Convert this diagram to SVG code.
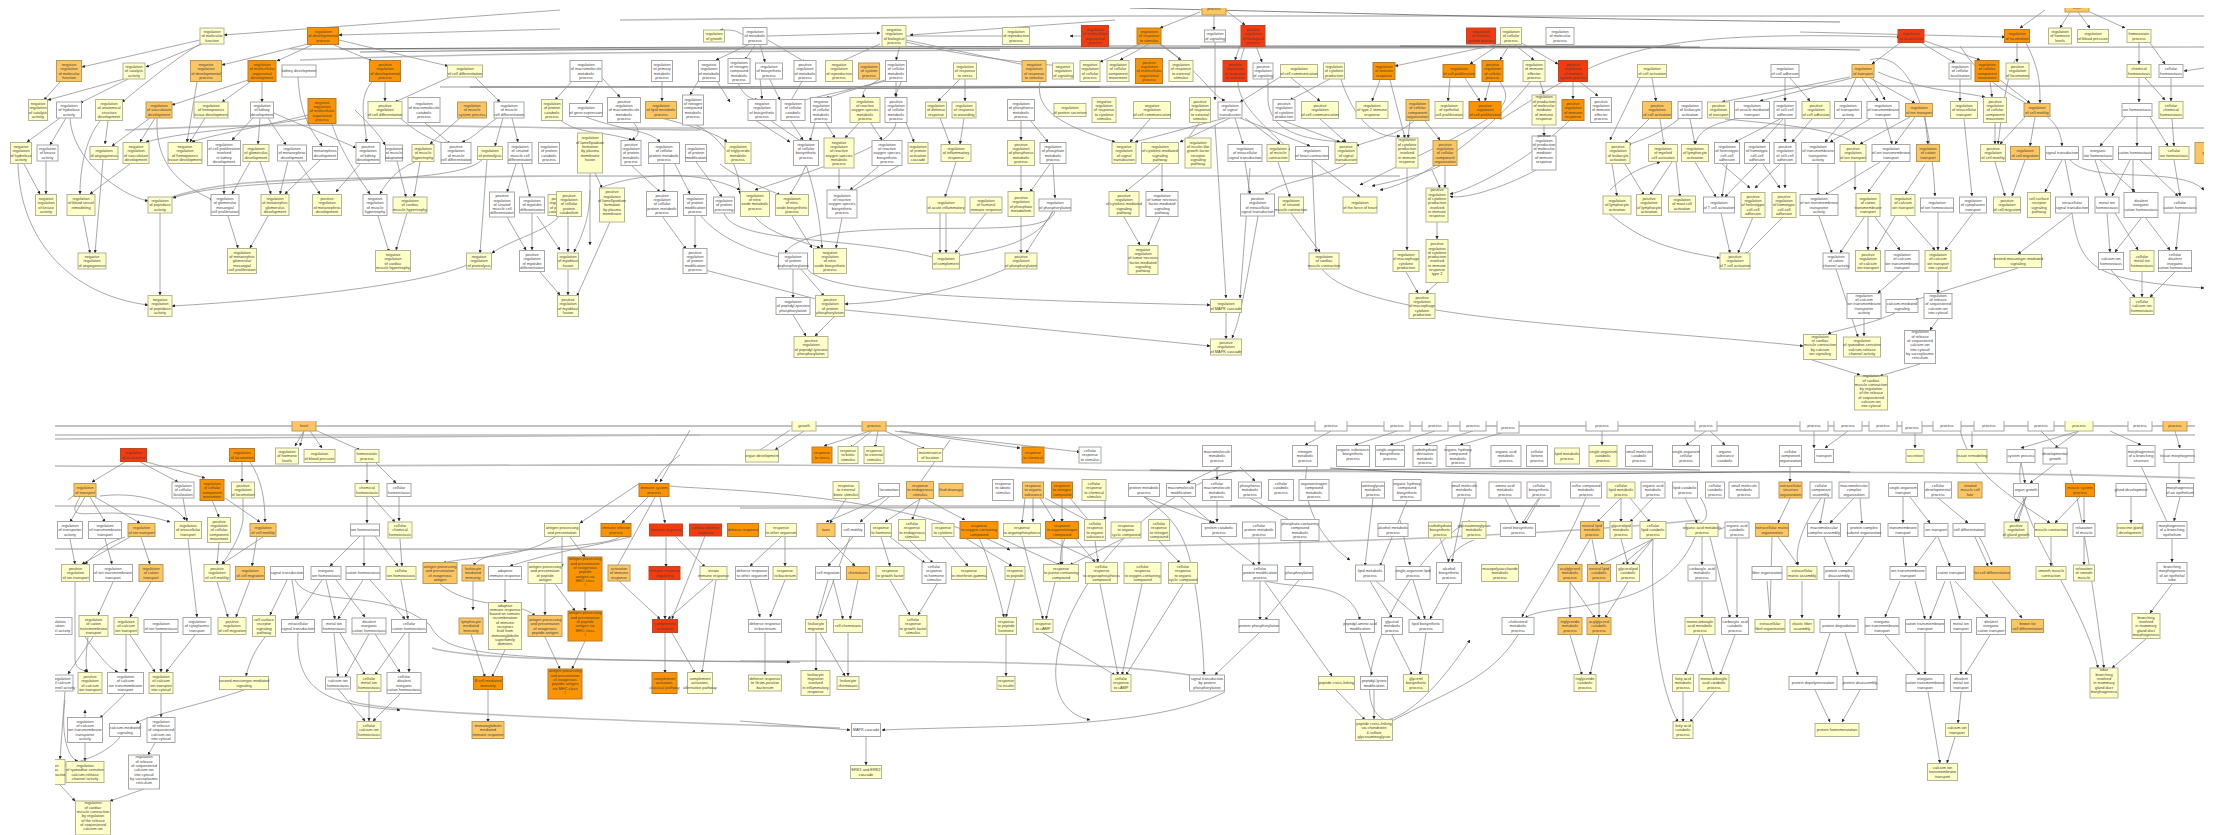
<svg xmlns="http://www.w3.org/2000/svg" width="2229" height="835" viewBox="0 0 2229 835">
<style>
text{font-family:"Liberation Sans",Arial,sans-serif;font-size:3.9px;text-anchor:middle;fill:#444}
rect{stroke-width:1}
.y rect{fill:#ffffc8;stroke:#b4b49a}
.w rect{fill:#fff;stroke:#a8a8a8}
.l rect{fill:#fdc662;stroke:#b89a5a}
.o rect{fill:#fb9400;stroke:#b87a2a}
.r rect{fill:#f53a0e;stroke:#b84a2a}
.e path{fill:none;stroke:#8c8c8c;stroke-width:.75;marker-end:url(#a)}
.b path{fill:none;stroke:#bdbdbd;stroke-width:1.6}
.d path{fill:none;stroke:#555;stroke-width:.7}
</style>
<defs>
<marker id="a" viewBox="0 0 6 6" refX="5.5" refY="3" markerWidth="3.2" markerHeight="3.2" markerUnits="userSpaceOnUse" orient="auto"><path d="M0 0L6 3L0 6z" fill="#222" stroke="none"/></marker>
<clipPath id="c1"><rect x="0" y="8" width="2204" height="410"/></clipPath>
<clipPath id="c2"><rect x="55" y="421" width="2140" height="414"/></clipPath>
</defs>
<rect width="2229" height="835" fill="#fff" stroke="none"/>
<g id="top-panel" clip-path="url(#c1)">
<g id="connectors-top">
<g class="b"><path d="M290 49C500 46 900 46 2204 47"/><path d="M440 87C800 86 1500 86 2204 86"/><path d="M560 128H2204"/><path d="M172 197C230 178 300 178 560 176H1400"/><path d="M1120 16H2204"/><path d="M300 60C500 52 700 52 1000 50"/><path d="M620 20C800 18 1000 17 1120 16"/><path d="M125 130C300 120 500 128 700 130"/></g>
<g class="d"><path d="M340 49C600 47 900 47 1120 46H1680"/><path d="M360 52C600 49 900 48 1200 48"/><path d="M470 87H1100"/><path d="M1130 8C1300 12 1600 20 1840 22"/><path d="M1400 46C1600 47 1750 48 1860 50"/><path d="M700 88C900 90 1100 86 1300 87"/><path d="M1200 47H1700"/></g>
<g class="e">
<path d="M560 10L224 35"/><path d="M560 29L339 35"/><path d="M200 40L82 67"/><path d="M202 44L146 67"/><path d="M308 44L222 65"/><path d="M312 45L277 61"/><path d="M334 45L372 61"/><path d="M339 40L448 66"/><path d="M124 79L48 100"/><path d="M128 79L80 103"/><path d="M60 82L44 100"/><path d="M200 44C170 62 135 92 122 102"/><path d="M197 82L187 142"/><path d="M248 80L172 105"/><path d="M250 82L222 102"/><path d="M262 82V102"/><path d="M450 77L395 102"/><path d="M385 82V101"/><path d="M372 82C355 100 368 130 366 142"/><path d="M475 77L500 102"/><path d="M298 77C300 120 315 135 322 146"/><path d="M60 118L27 142"/><path d="M66 118L50 145"/><path d="M70 118C72 160 120 195 148 201"/><path d="M108 121L105 144"/><path d="M100 121C85 140 80 170 80 194"/><path d="M150 118L112 146"/><path d="M155 118L140 142"/><path d="M157 118C155 165 180 185 213 200"/><path d="M205 118L190 142"/><path d="M253 118L232 140"/><path d="M260 118L258 144"/><path d="M268 118L286 145"/><path d="M274 113C300 125 340 140 356 148"/><path d="M308 115C270 125 210 135 192 142"/><path d="M308 118C260 128 190 130 146 142"/><path d="M332 124C340 150 360 180 370 194"/><path d="M224 166V194"/><path d="M250 162L232 194"/><path d="M260 162L271 194"/><path d="M288 161L280 194"/><path d="M298 161L320 194"/><path d="M320 160L285 194"/><path d="M360 164L336 192"/><path d="M397 161L406 197"/><path d="M420 162L414 197"/><path d="M415 162C395 170 385 185 380 194"/><path d="M130 164L90 194"/><path d="M103 160L95 253"/><path d="M83 216L90 253"/><path d="M24 164L40 194"/><path d="M18 164C20 240 70 295 148 305"/><path d="M46 161V194"/><path d="M160 213V295"/><path d="M228 216L238 248"/><path d="M268 216L250 248"/><path d="M378 216L389 252"/><path d="M407 213L396 250"/><path d="M487 160L480 253"/><path d="M482 160C450 190 250 172 173 198"/><path d="M467 265C420 285 280 300 172 306"/><path d="M507 217L526 250"/><path d="M532 213V250"/><path d="M559 216C550 230 510 240 492 253"/><path d="M537 216L560 250"/><path d="M540 272L560 295"/><path d="M512 118L518 142"/><path d="M497 118C480 130 470 140 462 142"/><path d="M460 118L430 144"/><path d="M503 118L495 146"/><path d="M516 164L507 192"/><path d="M522 164L530 197"/><path d="M400 118C420 135 440 145 446 142"/><path d="M355 110C370 125 380 135 385 145"/><path d="M425 123C440 135 446 140 450 144"/>
<path d="M755 45L745 60"/><path d="M750 44L716 60"/><path d="M760 45L765 62"/><path d="M768 40L805 62"/><path d="M745 36C735 30 735 30 720 30"/><path d="M880 44L840 62"/><path d="M906 40L1030 66"/><path d="M906 36L1010 36"/><path d="M1082 36H1070"/><path d="M1115 20L910 35"/><path d="M767 36L880 33"/><path d="M906 42C960 55 1000 60 1060 66"/><path d="M900 46L896 60"/><path d="M600 80L586 103"/><path d="M602 78L620 97"/><path d="M575 78L555 100"/><path d="M662 81V101"/><path d="M700 78L690 95"/><path d="M715 78L730 102"/><path d="M735 75C740 90 745 98 758 100"/><path d="M760 78L762 99"/><path d="M769 78L780 100"/><path d="M804 78L790 102"/><path d="M885 80L826 98"/><path d="M890 80L800 101"/><path d="M896 80V97"/><path d="M903 78L895 96"/><path d="M880 79C860 90 862 95 865 97"/><path d="M960 79L938 101"/><path d="M965 79V101"/><path d="M1040 82C1035 110 1060 125 1115 142"/><path d="M560 120C580 135 600 130 632 140"/><path d="M586 117C620 130 650 130 660 142"/><path d="M633 122C640 130 640 135 632 140"/><path d="M661 118C690 125 720 135 727 142"/><path d="M695 125C710 130 740 155 740 194"/><path d="M755 120L790 142"/><path d="M770 120L802 142"/><path d="M790 120L803 140"/><path d="M815 122L810 141"/><path d="M825 122L835 138"/><path d="M860 122L845 138"/><path d="M870 122L882 140"/><path d="M896 122C895 145 830 165 755 190"/><path d="M905 120L914 142"/><path d="M940 118L950 144"/><path d="M964 118L960 144"/><path d="M1021 120V140"/><path d="M1030 120L1048 142"/><path d="M590 173V245"/><path d="M595 173L602 188"/><path d="M631 165L660 192"/><path d="M664 164V193"/><path d="M675 164L690 194"/><path d="M696 162L722 197"/><path d="M720 164C740 180 770 190 780 195"/><path d="M806 165C800 180 795 185 790 195"/><path d="M839 169V189"/><path d="M880 165L850 190"/><path d="M902 164L850 192"/><path d="M600 188C640 172 700 170 740 190"/><path d="M956 162L945 197"/><path d="M1021 166V191"/><path d="M1050 164L1030 192"/><path d="M1053 164L1055 198"/><path d="M662 216L686 249"/><path d="M695 216V248"/><path d="M700 215C720 240 760 255 786 258"/><path d="M724 213C735 245 850 235 936 258"/><path d="M755 217C770 235 800 240 820 248"/><path d="M792 216L812 248"/><path d="M806 165C815 190 820 220 822 248"/><path d="M842 218L836 248"/><path d="M568 217V252"/><path d="M590 190C590 220 580 240 574 252"/><path d="M568 270V295"/><path d="M610 222L577 296"/><path d="M940 213L940 253"/><path d="M946 213V253"/><path d="M986 213L955 253"/><path d="M1053 211C1040 240 1000 250 956 256"/><path d="M1021 216V253"/><path d="M1053 211L1026 253"/><path d="M705 270L820 300"/><path d="M793 269V298"/><path d="M800 268L824 296"/><path d="M1010 267C960 290 900 302 845 304"/><path d="M793 315L806 336"/><path d="M835 316L815 336"/><path d="M808 270C830 295 1000 300 1210 305"/><path d="M845 310C950 320 1100 335 1210 346"/><path d="M1055 211C1050 240 920 220 820 235C800 240 790 245 785 253"/>
<path d="M1149 44L1120 60"/><path d="M1160 44L1181 60"/><path d="M1140 44L1100 62"/><path d="M1225 10L1245 25"/><path d="M1200 12L1160 28"/><path d="M1214 12V30"/><path d="M1240 46L1235 60"/><path d="M1256 46L1262 62"/><path d="M1215 42V100"/><path d="M1160 44C1200 70 1215 100 1225 100"/><path d="M1245 46C1230 90 1235 100 1290 150"/><path d="M1290 77L1320 101"/><path d="M1280 77L1240 102"/><path d="M1268 78V100C1270 130 1300 140 1345 142"/><path d="M1330 79L1290 100"/><path d="M1340 76C1350 110 1370 140 1400 136"/><path d="M1380 80L1372 101"/><path d="M1390 80L1405 138"/><path d="M1500 44L1395 66"/><path d="M1510 44L1500 60"/><path d="M1500 44L1470 64"/><path d="M1515 45L1534 60"/><path d="M1520 42L1558 64"/><path d="M1450 78L1448 101"/><path d="M1465 78L1480 101"/><path d="M1490 81L1485 101"/><path d="M1500 82C1520 110 1490 120 1360 185"/><path d="M1573 82V99"/><path d="M1580 82L1598 96"/><path d="M1530 82C1500 120 1430 180 1380 190"/><path d="M1540 82L1544 94"/><path d="M1544 125V136"/><path d="M1425 121L1440 140"/><path d="M1410 120L1408 138"/><path d="M1415 120C1400 135 1370 140 1356 146"/><path d="M1445 166L1445 188"/><path d="M1200 122L1185 142"/><path d="M1230 118L1180 142"/><path d="M1225 118L1135 142"/><path d="M1245 118L1280 144"/><path d="M1235 118L1243 144"/><path d="M1240 118L1310 146"/><path d="M1150 119L1130 142"/><path d="M1320 119L1346 142"/><path d="M1284 121L1340 142"/><path d="M1160 164L1125 192"/><path d="M1162 164V192"/><path d="M1245 162L1250 194"/><path d="M1278 162L1290 197"/><path d="M1312 160L1360 197"/><path d="M1312 160L1316 252"/><path d="M1346 164C1320 180 1280 180 1265 195"/><path d="M1407 168V250"/><path d="M1437 222V239"/><path d="M1432 170L1440 188"/><path d="M1440 166C1420 175 1400 180 1372 186"/><path d="M1540 168C1500 190 1460 200 1450 196"/><path d="M1570 120C1530 160 1470 190 1450 194"/><path d="M1291 213L1320 252"/><path d="M1124 217L1140 245"/><path d="M1160 217L1148 245"/><path d="M1250 168L1240 298"/><path d="M1215 125L1226 298"/><path d="M1258 216C1245 290 1240 320 1232 338"/><path d="M1226 313V339"/><path d="M1406 272L1418 293"/><path d="M1437 283L1426 293"/><path d="M1322 269C1360 320 1600 325 1803 346"/><path d="M1660 119L1664 145"/><path d="M1650 118L1625 143"/><path d="M1652 78L1656 101"/><path d="M1640 78L1610 140"/><path d="M1690 119L1695 144"/><path d="M1680 118C1660 135 1640 140 1628 145"/><path d="M1612 164L1617 196"/><path d="M1625 164L1644 195"/><path d="M1610 190C1630 170 1650 165 1660 162"/><path d="M1672 162L1650 195"/><path d="M1676 162L1680 197"/><path d="M1695 162L1716 197"/><path d="M1727 164L1722 197"/><path d="M1722 164L1750 188"/><path d="M1757 164L1725 197"/><path d="M1763 164L1780 188"/><path d="M1780 164L1755 188"/><path d="M1785 164V188"/><path d="M1610 214C1640 240 1670 250 1720 258"/><path d="M1721 213L1730 253"/><path d="M1753 217L1738 253"/><path d="M1783 217L1745 255"/>
<path d="M1785 78V101"/><path d="M1790 78L1810 101"/><path d="M1850 77L1722 102"/><path d="M1852 78L1760 101"/><path d="M1856 78L1845 101"/><path d="M1862 78L1878 101"/><path d="M1870 78L1915 103"/><path d="M1872 76L1885 100"/><path d="M1878 72C1920 90 1950 90 1985 97"/><path d="M1900 43L1872 64"/><path d="M1922 43L1955 63"/><path d="M1925 41L1980 60"/><path d="M2017 43V62"/><path d="M2026 43C2040 70 2040 85 2040 103"/><path d="M1960 79V101"/><path d="M1990 81L1992 97"/><path d="M2000 80L2030 103"/><path d="M1780 119L1735 142"/><path d="M1783 119L1762 142"/><path d="M1785 119V142"/><path d="M1812 119L1792 142"/><path d="M1735 119C1710 125 1700 130 1695 144"/><path d="M1725 119C1790 125 1840 130 1855 144"/><path d="M1845 119L1825 142"/><path d="M1870 119L1830 142"/><path d="M1885 119L1892 144"/><path d="M1910 117L1860 144"/><path d="M1915 117L1895 144"/><path d="M1925 117L1928 144"/><path d="M1995 123V144"/><path d="M2025 117L2000 144"/><path d="M2035 117L2030 146"/><path d="M1964 119L1972 196"/><path d="M2015 60C2005 80 2000 130 1998 144"/><path d="M1695 162L1700 150"/><path d="M1925 164L1905 194"/><path d="M1880 162L1825 195"/><path d="M1890 162L1868 192"/><path d="M1818 164V196"/><path d="M1855 162L1855 190"/><path d="M1995 162L2005 196"/><path d="M2025 160L2012 196"/><path d="M2062 160L2045 192"/><path d="M2065 160L2072 196"/><path d="M2095 160L2107 196"/><path d="M2100 160L2135 192"/><path d="M2130 160L2112 196"/><path d="M2133 160V192"/><path d="M2140 160L2178 196"/><path d="M2174 160L2180 196"/><path d="M2070 160C2090 185 2180 165 2204 190"/><path d="M1500 120C1610 50 1640 30 1900 37"/><path d="M1800 32L2005 37"/><path d="M1960 46C2000 110 2060 100 2062 146"/><path d="M1870 60C1900 50 1930 90 1935 196"/><path d="M2045 10L2020 28"/><path d="M2070 12L2060 28"/><path d="M2078 12L2090 28"/><path d="M2090 12L2125 28"/><path d="M2139 43V64"/><path d="M2150 43L2165 64"/><path d="M2139 78V102"/><path d="M2145 78L2165 100"/><path d="M2171 78V101"/><path d="M2204 68L2184 71"/><path d="M2125 117L2100 146"/><path d="M2137 117V146"/><path d="M2150 117L2168 146"/><path d="M2172 119L2174 146"/><path d="M1819 216L1832 253"/><path d="M1868 217V250"/><path d="M1875 217L1900 250"/><path d="M1905 216L1935 250"/><path d="M1938 212V250"/><path d="M1973 213L1945 250"/><path d="M1865 216L1840 253"/><path d="M1895 216L1875 250"/><path d="M2072 213L2018 254"/><path d="M2107 213L2110 252"/><path d="M2115 213L2138 250"/><path d="M2142 217L2115 252"/><path d="M2145 217L2170 250"/><path d="M2180 213L2176 250"/><path d="M1938 272V293"/><path d="M1902 272L1878 293"/><path d="M2018 268L1915 300"/><path d="M2111 270L2135 297"/><path d="M2142 272V297"/><path d="M2175 272L2150 297"/><path d="M2072 213C2080 270 2095 280 2204 288"/><path d="M1836 269L1858 337"/><path d="M1864 319V336"/><path d="M1895 313C1870 325 1835 330 1828 334"/><path d="M1938 319L1930 330"/><path d="M1812 360L1860 375"/><path d="M1920 364L1880 376"/>
</g></g>
<g id="t1" class="y" transform="translate(212,36)"><rect x="-12" y="-8" width="24" height="16"/><text y="-3"><tspan x="0">regulation</tspan><tspan x="0" dy="4.3">of molecular</tspan><tspan x="0" dy="4.3">function</tspan></text></g>
<g id="t2" class="o" transform="translate(323,36)"><rect x="-15.5" y="-8.5" width="31" height="17"/><text y="-3"><tspan x="0">regulation</tspan><tspan x="0" dy="4.3">of developmental</tspan><tspan x="0" dy="4.3">process</tspan></text></g>
<g id="t3" class="l" transform="translate(69,71)"><rect x="-12.5" y="-10.5" width="25" height="21"/><text y="-5.1"><tspan x="0">negative</tspan><tspan x="0" dy="4.3">regulation</tspan><tspan x="0" dy="4.3">of molecular</tspan><tspan x="0" dy="4.3">function</tspan></text></g>
<g id="t4" class="y" transform="translate(134,71)"><rect x="-11" y="-8" width="22" height="16"/><text y="-3"><tspan x="0">regulation</tspan><tspan x="0" dy="4.3">of catalytic</tspan><tspan x="0" dy="4.3">activity</tspan></text></g>
<g id="t5" class="l" transform="translate(206,71)"><rect x="-15.5" y="-10.5" width="31" height="21"/><text y="-5.1"><tspan x="0">negative</tspan><tspan x="0" dy="4.3">regulation</tspan><tspan x="0" dy="4.3">of developmental</tspan><tspan x="0" dy="4.3">process</tspan></text></g>
<g id="t6" class="o" transform="translate(262,71)"><rect x="-14" y="-10.5" width="28" height="21"/><text y="-5.1"><tspan x="0">regulation</tspan><tspan x="0" dy="4.3">of multicellular</tspan><tspan x="0" dy="4.3">organismal</tspan><tspan x="0" dy="4.3">development</tspan></text></g>
<g id="t7" class="w" transform="translate(299,71)"><rect x="-17" y="-6" width="34" height="12"/><text y="1.4">kidney development</text></g>
<g id="t8" class="o" transform="translate(385,71)"><rect x="-15.5" y="-10.5" width="31" height="21"/><text y="-5.1"><tspan x="0">positive</tspan><tspan x="0" dy="4.3">regulation</tspan><tspan x="0" dy="4.3">of developmental</tspan><tspan x="0" dy="4.3">process</tspan></text></g>
<g id="t9" class="y" transform="translate(465,71)"><rect x="-17.5" y="-6" width="35" height="12"/><text y="-.8"><tspan x="0">regulation</tspan><tspan x="0" dy="4.3">of cell differentiation</tspan></text></g>
<g id="t10" class="y" transform="translate(38,110)"><rect x="-9.5" y="-10.5" width="19" height="21"/><text y="-5.1"><tspan x="0">negative</tspan><tspan x="0" dy="4.3">regulation</tspan><tspan x="0" dy="4.3">of catalytic</tspan><tspan x="0" dy="4.3">activity</tspan></text></g>
<g id="t11" class="w" transform="translate(69,110)"><rect x="-12.5" y="-8" width="25" height="16"/><text y="-3"><tspan x="0">regulation</tspan><tspan x="0" dy="4.3">of hydrolase</tspan><tspan x="0" dy="4.3">activity</tspan></text></g>
<g id="t12" class="y" transform="translate(109,110)"><rect x="-13.5" y="-10.5" width="27" height="21"/><text y="-5.1"><tspan x="0">regulation</tspan><tspan x="0" dy="4.3">of anatomical</tspan><tspan x="0" dy="4.3">structure</tspan><tspan x="0" dy="4.3">development</tspan></text></g>
<g id="t13" class="l" transform="translate(159,110)"><rect x="-13" y="-8" width="26" height="16"/><text y="-3"><tspan x="0">regulation</tspan><tspan x="0" dy="4.3">of vasculature</tspan><tspan x="0" dy="4.3">development</tspan></text></g>
<g id="t14" class="y" transform="translate(211,110)"><rect x="-17" y="-8" width="34" height="16"/><text y="-3"><tspan x="0">regulation</tspan><tspan x="0" dy="4.3">of hemopoiesis</tspan><tspan x="0" dy="4.3">tissue development</tspan></text></g>
<g id="t15" class="w" transform="translate(262,110)"><rect x="-11.5" y="-8" width="23" height="16"/><text y="-3"><tspan x="0">regulation</tspan><tspan x="0" dy="4.3">of kidney</tspan><tspan x="0" dy="4.3">development</tspan></text></g>
<g id="t16" class="o" transform="translate(322,111)"><rect x="-14" y="-12.5" width="28" height="25"/><text y="-7.3"><tspan x="0">negative</tspan><tspan x="0" dy="4.3">regulation</tspan><tspan x="0" dy="4.3">of multicellular</tspan><tspan x="0" dy="4.3">organismal</tspan><tspan x="0" dy="4.3">process</tspan></text></g>
<g id="t17" class="y" transform="translate(385,110)"><rect x="-17" y="-8.5" width="34" height="17"/><text y="-3"><tspan x="0">positive</tspan><tspan x="0" dy="4.3">regulation</tspan><tspan x="0" dy="4.3">of cell differentiation</tspan></text></g>
<g id="t18" class="w" transform="translate(424,110)"><rect x="-16" y="-12.5" width="32" height="25"/><text y="-5.1"><tspan x="0">regulation</tspan><tspan x="0" dy="4.3">of macromolecule</tspan><tspan x="0" dy="4.3">catabolic</tspan><tspan x="0" dy="4.3">process</tspan></text></g>
<g id="t19" class="l" transform="translate(472,110)"><rect x="-14.5" y="-8" width="29" height="16"/><text y="-3"><tspan x="0">regulation</tspan><tspan x="0" dy="4.3">of muscle</tspan><tspan x="0" dy="4.3">system process</tspan></text></g>
<g id="t20" class="w" transform="translate(509,110)"><rect x="-15" y="-8" width="30" height="16"/><text y="-3"><tspan x="0">regulation</tspan><tspan x="0" dy="4.3">of muscle</tspan><tspan x="0" dy="4.3">cell differentiation</tspan></text></g>
<g id="t21" class="y" transform="translate(552,110)"><rect x="-10.5" y="-10.5" width="21" height="21"/><text y="-5.1"><tspan x="0">regulation</tspan><tspan x="0" dy="4.3">of protein</tspan><tspan x="0" dy="4.3">catabolic</tspan><tspan x="0" dy="4.3">process</tspan></text></g>
<g id="t22" class="y" transform="translate(21,153)"><rect x="-10.5" y="-10.5" width="21" height="21"/><text y="-5.1"><tspan x="0">negative</tspan><tspan x="0" dy="4.3">regulation</tspan><tspan x="0" dy="4.3">of hydrolase</tspan><tspan x="0" dy="4.3">activity</tspan></text></g>
<g id="t23" class="w" transform="translate(47.5,153)"><rect x="-10.5" y="-8" width="21" height="16"/><text y="-3"><tspan x="0">regulation</tspan><tspan x="0" dy="4.3">of kinase</tspan><tspan x="0" dy="4.3">activity</tspan></text></g>
<g id="t24" class="y" transform="translate(104,153)"><rect x="-14" y="-6.5" width="28" height="13"/><text y="-.8"><tspan x="0">regulation</tspan><tspan x="0" dy="4.3">of angiogenesis</tspan></text></g>
<g id="t25" class="y" transform="translate(136,153)"><rect x="-13" y="-10.5" width="26" height="21"/><text y="-5.1"><tspan x="0">negative</tspan><tspan x="0" dy="4.3">regulation</tspan><tspan x="0" dy="4.3">of vasculature</tspan><tspan x="0" dy="4.3">development</tspan></text></g>
<g id="t26" class="y" transform="translate(185,153)"><rect x="-17" y="-10.5" width="34" height="21"/><text y="-5.1"><tspan x="0">negative</tspan><tspan x="0" dy="4.3">regulation</tspan><tspan x="0" dy="4.3">of hemopoiesis</tspan><tspan x="0" dy="4.3">tissue development</tspan></text></g>
<g id="t27" class="w" transform="translate(224,153)"><rect x="-16.5" y="-12.5" width="33" height="25"/><text y="-7.3"><tspan x="0">regulation</tspan><tspan x="0" dy="4.3">of cell proliferation</tspan><tspan x="0" dy="4.3">involved</tspan><tspan x="0" dy="4.3">in kidney</tspan><tspan x="0" dy="4.3">development</tspan></text></g>
<g id="t28" class="y" transform="translate(256,153)"><rect x="-13" y="-8.5" width="26" height="17"/><text y="-3"><tspan x="0">regulation</tspan><tspan x="0" dy="4.3">of glomerulus</tspan><tspan x="0" dy="4.3">development</tspan></text></g>
<g id="t29" class="w" transform="translate(292,153)"><rect x="-14.5" y="-8" width="29" height="16"/><text y="-3"><tspan x="0">regulation</tspan><tspan x="0" dy="4.3">of metanephros</tspan><tspan x="0" dy="4.3">development</tspan></text></g>
<g id="t30" class="w" transform="translate(325,153)"><rect x="-12.5" y="-6.5" width="25" height="13"/><text y="-.8"><tspan x="0">metanephros</tspan><tspan x="0" dy="4.3">development</tspan></text></g>
<g id="t31" class="w" transform="translate(368,153)"><rect x="-12" y="-10.5" width="24" height="21"/><text y="-5.1"><tspan x="0">positive</tspan><tspan x="0" dy="4.3">regulation</tspan><tspan x="0" dy="4.3">of kidney</tspan><tspan x="0" dy="4.3">development</tspan></text></g>
<g id="t32" class="w" transform="translate(394,153)"><rect x="-8.5" y="-8" width="17" height="16"/><text y="-3"><tspan x="0">regulation</tspan><tspan x="0" dy="4.3">of muscle</tspan><tspan x="0" dy="4.3">adaptation</tspan></text></g>
<g id="t33" class="y" transform="translate(423,153)"><rect x="-11" y="-8.5" width="22" height="17"/><text y="-3"><tspan x="0">regulation</tspan><tspan x="0" dy="4.3">of muscle</tspan><tspan x="0" dy="4.3">hypertrophy</tspan></text></g>
<g id="t34" class="w" transform="translate(456,153)"><rect x="-15" y="-10.5" width="30" height="21"/><text y="-5.1"><tspan x="0">positive</tspan><tspan x="0" dy="4.3">regulation</tspan><tspan x="0" dy="4.3">of muscle</tspan><tspan x="0" dy="4.3">cell differentiation</tspan></text></g>
<g id="t35" class="y" transform="translate(490,153)"><rect x="-12.5" y="-6.5" width="25" height="13"/><text y="-.8"><tspan x="0">regulation</tspan><tspan x="0" dy="4.3">of proteolysis</tspan></text></g>
<g id="t36" class="w" transform="translate(520,153)"><rect x="-12" y="-10.5" width="24" height="21"/><text y="-5.1"><tspan x="0">regulation</tspan><tspan x="0" dy="4.3">of striated</tspan><tspan x="0" dy="4.3">muscle cell</tspan><tspan x="0" dy="4.3">differentiation</tspan></text></g>
<g id="t37" class="w" transform="translate(549,153)"><rect x="-10.5" y="-10.5" width="21" height="21"/><text y="-5.1"><tspan x="0">regulation</tspan><tspan x="0" dy="4.3">of protein</tspan><tspan x="0" dy="4.3">catabolic</tspan><tspan x="0" dy="4.3">process</tspan></text></g>
<g id="t38" class="y" transform="translate(46,205)"><rect x="-10.5" y="-10.5" width="21" height="21"/><text y="-5.1"><tspan x="0">negative</tspan><tspan x="0" dy="4.3">regulation</tspan><tspan x="0" dy="4.3">of kinase</tspan><tspan x="0" dy="4.3">activity</tspan></text></g>
<g id="t39" class="y" transform="translate(81,205)"><rect x="-14" y="-10.5" width="28" height="21"/><text y="-5.1"><tspan x="0">regulation</tspan><tspan x="0" dy="4.3">of blood vessel</tspan><tspan x="0" dy="4.3">remodeling</tspan></text></g>
<g id="t40" class="y" transform="translate(160,205)"><rect x="-12" y="-8" width="24" height="16"/><text y="-3"><tspan x="0">regulation</tspan><tspan x="0" dy="4.3">of peptidase</tspan><tspan x="0" dy="4.3">activity</tspan></text></g>
<g id="t41" class="w" transform="translate(225,205)"><rect x="-14" y="-10.5" width="28" height="21"/><text y="-5.1"><tspan x="0">regulation</tspan><tspan x="0" dy="4.3">of glomerular</tspan><tspan x="0" dy="4.3">mesangial</tspan><tspan x="0" dy="4.3">cell proliferation</tspan></text></g>
<g id="t42" class="y" transform="translate(275,205)"><rect x="-14" y="-10.5" width="28" height="21"/><text y="-5.1"><tspan x="0">regulation</tspan><tspan x="0" dy="4.3">of metanephric</tspan><tspan x="0" dy="4.3">glomerulus</tspan><tspan x="0" dy="4.3">development</tspan></text></g>
<g id="t43" class="y" transform="translate(327,205)"><rect x="-14.5" y="-10.5" width="29" height="21"/><text y="-5.1"><tspan x="0">positive</tspan><tspan x="0" dy="4.3">regulation</tspan><tspan x="0" dy="4.3">of metanephros</tspan><tspan x="0" dy="4.3">development</tspan></text></g>
<g id="t44" class="w" transform="translate(375,205)"><rect x="-12" y="-10.5" width="24" height="21"/><text y="-5.1"><tspan x="0">negative</tspan><tspan x="0" dy="4.3">regulation</tspan><tspan x="0" dy="4.3">of muscle</tspan><tspan x="0" dy="4.3">hypertrophy</tspan></text></g>
<g id="t45" class="y" transform="translate(410,205)"><rect x="-17" y="-8" width="34" height="16"/><text y="-3"><tspan x="0">regulation</tspan><tspan x="0" dy="4.3">of cardiac</tspan><tspan x="0" dy="4.3">muscle hypertrophy</tspan></text></g>
<g id="t46" class="w" transform="translate(502,204.5)"><rect x="-12.5" y="-12.5" width="25" height="25"/><text y="-7.3"><tspan x="0">positive</tspan><tspan x="0" dy="4.3">regulation</tspan><tspan x="0" dy="4.3">of striated</tspan><tspan x="0" dy="4.3">muscle cell</tspan><tspan x="0" dy="4.3">differentiation</tspan></text></g>
<g id="t47" class="w" transform="translate(532,205)"><rect x="-12.5" y="-8" width="25" height="16"/><text y="-3"><tspan x="0">regulation</tspan><tspan x="0" dy="4.3">of myotube</tspan><tspan x="0" dy="4.3">differentiation</tspan></text></g>
<g id="t48" class="y" transform="translate(558,205)"><rect x="-10" y="-10.5" width="20" height="21"/><text y="-5.1"><tspan x="0">positive</tspan><tspan x="0" dy="4.3">regulation</tspan><tspan x="0" dy="4.3">of protein</tspan><tspan x="0" dy="4.3">catabolism</tspan></text></g>
<g id="t49" class="y" transform="translate(92,261)"><rect x="-14" y="-8" width="28" height="16"/><text y="-3"><tspan x="0">negative</tspan><tspan x="0" dy="4.3">regulation</tspan><tspan x="0" dy="4.3">of angiogenesis</tspan></text></g>
<g id="t50" class="y" transform="translate(242,261)"><rect x="-14.5" y="-12.5" width="29" height="25"/><text y="-7.3"><tspan x="0">regulation</tspan><tspan x="0" dy="4.3">of metanephric</tspan><tspan x="0" dy="4.3">glomerular</tspan><tspan x="0" dy="4.3">mesangial</tspan><tspan x="0" dy="4.3">cell proliferation</tspan></text></g>
<g id="t51" class="y" transform="translate(393,261)"><rect x="-17.5" y="-10.5" width="35" height="21"/><text y="-5.1"><tspan x="0">negative</tspan><tspan x="0" dy="4.3">regulation</tspan><tspan x="0" dy="4.3">of cardiac</tspan><tspan x="0" dy="4.3">muscle hypertrophy</tspan></text></g>
<g id="t52" class="y" transform="translate(479,261)"><rect x="-12.5" y="-8" width="25" height="16"/><text y="-3"><tspan x="0">negative</tspan><tspan x="0" dy="4.3">regulation</tspan><tspan x="0" dy="4.3">of proteolysis</tspan></text></g>
<g id="t53" class="w" transform="translate(532,261)"><rect x="-12.5" y="-10.5" width="25" height="21"/><text y="-5.1"><tspan x="0">positive</tspan><tspan x="0" dy="4.3">regulation</tspan><tspan x="0" dy="4.3">of myotube</tspan><tspan x="0" dy="4.3">differentiation</tspan></text></g>
<g id="t54" class="y" transform="translate(568,261)"><rect x="-10.5" y="-8" width="21" height="16"/><text y="-3"><tspan x="0">regulation</tspan><tspan x="0" dy="4.3">of myoblast</tspan><tspan x="0" dy="4.3">fusion</tspan></text></g>
<g id="t55" class="y" transform="translate(160,306)"><rect x="-12" y="-10.5" width="24" height="21"/><text y="-5.1"><tspan x="0">negative</tspan><tspan x="0" dy="4.3">regulation</tspan><tspan x="0" dy="4.3">of peptidase</tspan><tspan x="0" dy="4.3">activity</tspan></text></g>
<g id="t56" class="y" transform="translate(568,306)"><rect x="-10.5" y="-10.5" width="21" height="21"/><text y="-5.1"><tspan x="0">positive</tspan><tspan x="0" dy="4.3">regulation</tspan><tspan x="0" dy="4.3">of myoblast</tspan><tspan x="0" dy="4.3">fusion</tspan></text></g>
<g id="t57" class="y" transform="translate(714,36)"><rect x="-10.5" y="-6" width="21" height="12"/><text y="-.8"><tspan x="0">regulation</tspan><tspan x="0" dy="4.3">of growth</tspan></text></g>
<g id="t58" class="w" transform="translate(755,36)"><rect x="-12" y="-8.5" width="24" height="17"/><text y="-3"><tspan x="0">regulation</tspan><tspan x="0" dy="4.3">of metabolic</tspan><tspan x="0" dy="4.3">process</tspan></text></g>
<g id="t59" class="y" transform="translate(894,36)"><rect x="-12" y="-10.5" width="24" height="21"/><text y="-5.1"><tspan x="0">negative</tspan><tspan x="0" dy="4.3">regulation</tspan><tspan x="0" dy="4.3">of biological</tspan><tspan x="0" dy="4.3">process</tspan></text></g>
<g id="t60" class="y" transform="translate(1016,36)"><rect x="-13.5" y="-8.5" width="27" height="17"/><text y="-3"><tspan x="0">regulation</tspan><tspan x="0" dy="4.3">of reproductive</tspan><tspan x="0" dy="4.3">process</tspan></text></g>
<g id="t61" class="r" transform="translate(1095,36)"><rect x="-13.5" y="-10.5" width="27" height="21"/><text y="-5.1"><tspan x="0">regulation</tspan><tspan x="0" dy="4.3">of multicellular</tspan><tspan x="0" dy="4.3">organismal</tspan><tspan x="0" dy="4.3">process</tspan></text></g>
<g id="t62" class="w" transform="translate(586,71)"><rect x="-16" y="-10.5" width="32" height="21"/><text y="-5.1"><tspan x="0">regulation</tspan><tspan x="0" dy="4.3">of macromolecule</tspan><tspan x="0" dy="4.3">metabolic</tspan><tspan x="0" dy="4.3">process</tspan></text></g>
<g id="t63" class="w" transform="translate(662,71)"><rect x="-10.5" y="-10.5" width="21" height="21"/><text y="-5.1"><tspan x="0">regulation</tspan><tspan x="0" dy="4.3">of primary</tspan><tspan x="0" dy="4.3">metabolic</tspan><tspan x="0" dy="4.3">process</tspan></text></g>
<g id="t64" class="w" transform="translate(709,71)"><rect x="-10.5" y="-10.5" width="21" height="21"/><text y="-5.1"><tspan x="0">negative</tspan><tspan x="0" dy="4.3">regulation</tspan><tspan x="0" dy="4.3">of metabolic</tspan><tspan x="0" dy="4.3">process</tspan></text></g>
<g id="t65" class="w" transform="translate(739,71)"><rect x="-11" y="-12.5" width="22" height="25"/><text y="-7.3"><tspan x="0">regulation</tspan><tspan x="0" dy="4.3">of nitrogen</tspan><tspan x="0" dy="4.3">compound</tspan><tspan x="0" dy="4.3">metabolic</tspan><tspan x="0" dy="4.3">process</tspan></text></g>
<g id="t66" class="w" transform="translate(769,71)"><rect x="-13.5" y="-8" width="27" height="16"/><text y="-3"><tspan x="0">regulation</tspan><tspan x="0" dy="4.3">of biosynthetic</tspan><tspan x="0" dy="4.3">process</tspan></text></g>
<g id="t67" class="w" transform="translate(805,71)"><rect x="-11" y="-10.5" width="22" height="21"/><text y="-5.1"><tspan x="0">positive</tspan><tspan x="0" dy="4.3">regulation</tspan><tspan x="0" dy="4.3">of metabolic</tspan><tspan x="0" dy="4.3">process</tspan></text></g>
<g id="t68" class="y" transform="translate(839,71)"><rect x="-13.5" y="-10.5" width="27" height="21"/><text y="-5.1"><tspan x="0">negative</tspan><tspan x="0" dy="4.3">regulation</tspan><tspan x="0" dy="4.3">of reproductive</tspan><tspan x="0" dy="4.3">process</tspan></text></g>
<g id="t69" class="l" transform="translate(869,71)"><rect x="-10.5" y="-8" width="21" height="16"/><text y="-3"><tspan x="0">regulation</tspan><tspan x="0" dy="4.3">of system</tspan><tspan x="0" dy="4.3">process</tspan></text></g>
<g id="t70" class="w" transform="translate(896,71)"><rect x="-10.5" y="-10.5" width="21" height="21"/><text y="-5.1"><tspan x="0">regulation</tspan><tspan x="0" dy="4.3">of cellular</tspan><tspan x="0" dy="4.3">metabolic</tspan><tspan x="0" dy="4.3">process</tspan></text></g>
<g id="t71" class="y" transform="translate(965,71)"><rect x="-11.5" y="-8" width="23" height="16"/><text y="-3"><tspan x="0">regulation</tspan><tspan x="0" dy="4.3">of response</tspan><tspan x="0" dy="4.3">to stress</tspan></text></g>
<g id="t72" class="l" transform="translate(1034,71)"><rect x="-12" y="-10.5" width="24" height="21"/><text y="-5.1"><tspan x="0">negative</tspan><tspan x="0" dy="4.3">regulation</tspan><tspan x="0" dy="4.3">of response</tspan><tspan x="0" dy="4.3">to stimulus</tspan></text></g>
<g id="t73" class="y" transform="translate(1063,71)"><rect x="-10.5" y="-8" width="21" height="16"/><text y="-3"><tspan x="0">negative</tspan><tspan x="0" dy="4.3">regulation</tspan><tspan x="0" dy="4.3">of signaling</tspan></text></g>
<g id="t74" class="y" transform="translate(1090,71)"><rect x="-10" y="-10.5" width="20" height="21"/><text y="-5.1"><tspan x="0">negative</tspan><tspan x="0" dy="4.3">regulation</tspan><tspan x="0" dy="4.3">of cellular</tspan><tspan x="0" dy="4.3">process</tspan></text></g>
<g id="t75" class="y" transform="translate(1118,71)"><rect x="-11" y="-10.5" width="22" height="21"/><text y="-5.1"><tspan x="0">regulation</tspan><tspan x="0" dy="4.3">of cellular</tspan><tspan x="0" dy="4.3">component</tspan><tspan x="0" dy="4.3">movement</tspan></text></g>
<g id="t76" class="w" transform="translate(586,110)"><rect x="-16.5" y="-6.5" width="33" height="13"/><text y="-.8"><tspan x="0">regulation</tspan><tspan x="0" dy="4.3">of gene expression</tspan></text></g>
<g id="t77" class="w" transform="translate(624,110)"><rect x="-16.5" y="-12.5" width="33" height="25"/><text y="-7.3"><tspan x="0">positive</tspan><tspan x="0" dy="4.3">regulation</tspan><tspan x="0" dy="4.3">of macromolecule</tspan><tspan x="0" dy="4.3">metabolic</tspan><tspan x="0" dy="4.3">process</tspan></text></g>
<g id="t78" class="l" transform="translate(661,110)"><rect x="-15.5" y="-8.5" width="31" height="17"/><text y="-3"><tspan x="0">regulation</tspan><tspan x="0" dy="4.3">of lipid metabolic</tspan><tspan x="0" dy="4.3">process</tspan></text></g>
<g id="t79" class="w" transform="translate(693,110)"><rect x="-10.5" y="-15" width="21" height="30"/><text y="-9.4"><tspan x="0">regulation</tspan><tspan x="0" dy="4.3">of nitrogen</tspan><tspan x="0" dy="4.3">compound</tspan><tspan x="0" dy="4.3">metabolic</tspan><tspan x="0" dy="4.3">process</tspan></text></g>
<g id="t80" class="w" transform="translate(762,110)"><rect x="-14" y="-10.5" width="28" height="21"/><text y="-5.1"><tspan x="0">negative</tspan><tspan x="0" dy="4.3">regulation</tspan><tspan x="0" dy="4.3">of biosynthetic</tspan><tspan x="0" dy="4.3">process</tspan></text></g>
<g id="t81" class="w" transform="translate(793,110)"><rect x="-12" y="-10.5" width="24" height="21"/><text y="-5.1"><tspan x="0">regulation</tspan><tspan x="0" dy="4.3">of cellular</tspan><tspan x="0" dy="4.3">catabolic</tspan><tspan x="0" dy="4.3">process</tspan></text></g>
<g id="t82" class="w" transform="translate(821,110)"><rect x="-10.5" y="-12.5" width="21" height="25"/><text y="-7.3"><tspan x="0">negative</tspan><tspan x="0" dy="4.3">regulation</tspan><tspan x="0" dy="4.3">of cellular</tspan><tspan x="0" dy="4.3">metabolic</tspan><tspan x="0" dy="4.3">process</tspan></text></g>
<g id="t83" class="y" transform="translate(865,110)"><rect x="-15" y="-12.5" width="30" height="25"/><text y="-7.3"><tspan x="0">regulation</tspan><tspan x="0" dy="4.3">of reactive</tspan><tspan x="0" dy="4.3">oxygen species</tspan><tspan x="0" dy="4.3">metabolic</tspan><tspan x="0" dy="4.3">process</tspan></text></g>
<g id="t84" class="w" transform="translate(896,110)"><rect x="-11" y="-12.5" width="22" height="25"/><text y="-7.3"><tspan x="0">positive</tspan><tspan x="0" dy="4.3">regulation</tspan><tspan x="0" dy="4.3">of cellular</tspan><tspan x="0" dy="4.3">metabolic</tspan><tspan x="0" dy="4.3">process</tspan></text></g>
<g id="t85" class="y" transform="translate(936,110)"><rect x="-10.5" y="-8" width="21" height="16"/><text y="-3"><tspan x="0">regulation</tspan><tspan x="0" dy="4.3">of defense</tspan><tspan x="0" dy="4.3">response</tspan></text></g>
<g id="t86" class="y" transform="translate(964,110)"><rect x="-12" y="-8" width="24" height="16"/><text y="-3"><tspan x="0">regulation</tspan><tspan x="0" dy="4.3">of response</tspan><tspan x="0" dy="4.3">to wounding</tspan></text></g>
<g id="t87" class="w" transform="translate(1021,110)"><rect x="-13.5" y="-10.5" width="27" height="21"/><text y="-5.1"><tspan x="0">regulation</tspan><tspan x="0" dy="4.3">of phosphorus</tspan><tspan x="0" dy="4.3">metabolic</tspan><tspan x="0" dy="4.3">process</tspan></text></g>
<g id="t88" class="y" transform="translate(1070,110)"><rect x="-16" y="-6.5" width="32" height="13"/><text y="-.8"><tspan x="0">regulation</tspan><tspan x="0" dy="4.3">of protein secretion</tspan></text></g>
<g id="t89" class="y" transform="translate(1104,110)"><rect x="-12" y="-12.5" width="24" height="25"/><text y="-7.3"><tspan x="0">negative</tspan><tspan x="0" dy="4.3">regulation</tspan><tspan x="0" dy="4.3">of response</tspan><tspan x="0" dy="4.3">to cytokine</tspan><tspan x="0" dy="4.3">stimulus</tspan></text></g>
<g id="t90" class="y" transform="translate(590,153)"><rect x="-12.5" y="-20" width="25" height="40"/><text y="-13.7"><tspan x="0">regulation</tspan><tspan x="0" dy="4.3">of lamellipodium</tspan><tspan x="0" dy="4.3">formation</tspan><tspan x="0" dy="4.3">by plasma</tspan><tspan x="0" dy="4.3">membrane</tspan><tspan x="0" dy="4.3">fusion</tspan></text></g>
<g id="t91" class="w" transform="translate(631,153)"><rect x="-10" y="-12.5" width="20" height="25"/><text y="-7.3"><tspan x="0">positive</tspan><tspan x="0" dy="4.3">regulation</tspan><tspan x="0" dy="4.3">of protein</tspan><tspan x="0" dy="4.3">metabolic</tspan><tspan x="0" dy="4.3">process</tspan></text></g>
<g id="t92" class="w" transform="translate(664,153)"><rect x="-15.5" y="-10.5" width="31" height="21"/><text y="-5.1"><tspan x="0">regulation</tspan><tspan x="0" dy="4.3">of cellular</tspan><tspan x="0" dy="4.3">protein metabolic</tspan><tspan x="0" dy="4.3">process</tspan></text></g>
<g id="t93" class="w" transform="translate(696,153)"><rect x="-10.5" y="-8.5" width="21" height="17"/><text y="-3"><tspan x="0">regulation</tspan><tspan x="0" dy="4.3">of protein</tspan><tspan x="0" dy="4.3">modification</tspan></text></g>
<g id="t94" class="y" transform="translate(738,153)"><rect x="-13" y="-10.5" width="26" height="21"/><text y="-5.1"><tspan x="0">regulation</tspan><tspan x="0" dy="4.3">of triglyceride</tspan><tspan x="0" dy="4.3">metabolic</tspan><tspan x="0" dy="4.3">process</tspan></text></g>
<g id="t95" class="w" transform="translate(806,153)"><rect x="-12.5" y="-12.5" width="25" height="25"/><text y="-7.3"><tspan x="0">regulation</tspan><tspan x="0" dy="4.3">of cellular</tspan><tspan x="0" dy="4.3">biosynthetic</tspan><tspan x="0" dy="4.3">process</tspan></text></g>
<g id="t96" class="y" transform="translate(839,153)"><rect x="-15" y="-15" width="30" height="30"/><text y="-9.4"><tspan x="0">negative</tspan><tspan x="0" dy="4.3">regulation</tspan><tspan x="0" dy="4.3">of reactive</tspan><tspan x="0" dy="4.3">oxygen species</tspan><tspan x="0" dy="4.3">metabolic</tspan><tspan x="0" dy="4.3">process</tspan></text></g>
<g id="t97" class="w" transform="translate(887,153)"><rect x="-15" y="-12.5" width="30" height="25"/><text y="-7.3"><tspan x="0">regulation</tspan><tspan x="0" dy="4.3">of reactive</tspan><tspan x="0" dy="4.3">oxygen species</tspan><tspan x="0" dy="4.3">biosynthetic</tspan><tspan x="0" dy="4.3">process</tspan></text></g>
<g id="t98" class="y" transform="translate(918,153)"><rect x="-10" y="-10.5" width="20" height="21"/><text y="-5.1"><tspan x="0">regulation</tspan><tspan x="0" dy="4.3">of protein</tspan><tspan x="0" dy="4.3">activation</tspan><tspan x="0" dy="4.3">cascade</tspan></text></g>
<g id="t99" class="y" transform="translate(956,153)"><rect x="-15" y="-8.5" width="30" height="17"/><text y="-3"><tspan x="0">regulation</tspan><tspan x="0" dy="4.3">of inflammatory</tspan><tspan x="0" dy="4.3">response</tspan></text></g>
<g id="t100" class="y" transform="translate(1021,153)"><rect x="-13.5" y="-12.5" width="27" height="25"/><text y="-7.3"><tspan x="0">positive</tspan><tspan x="0" dy="4.3">regulation</tspan><tspan x="0" dy="4.3">of phosphorus</tspan><tspan x="0" dy="4.3">metabolic</tspan><tspan x="0" dy="4.3">process</tspan></text></g>
<g id="t101" class="w" transform="translate(1053,153)"><rect x="-13" y="-10.5" width="26" height="21"/><text y="-5.1"><tspan x="0">regulation</tspan><tspan x="0" dy="4.3">of phosphate</tspan><tspan x="0" dy="4.3">metabolic</tspan><tspan x="0" dy="4.3">process</tspan></text></g>
<g id="t102" class="y" transform="translate(569,204)"><rect x="-12.5" y="-12.5" width="25" height="25"/><text y="-7.3"><tspan x="0">positive</tspan><tspan x="0" dy="4.3">regulation</tspan><tspan x="0" dy="4.3">of cellular</tspan><tspan x="0" dy="4.3">protein</tspan><tspan x="0" dy="4.3">catabolism</tspan></text></g>
<g id="t103" class="y" transform="translate(612,205)"><rect x="-12.5" y="-17" width="25" height="34"/><text y="-11.6"><tspan x="0">positive</tspan><tspan x="0" dy="4.3">regulation</tspan><tspan x="0" dy="4.3">of lamellipodium</tspan><tspan x="0" dy="4.3">formation</tspan><tspan x="0" dy="4.3">by plasma</tspan><tspan x="0" dy="4.3">membrane</tspan></text></g>
<g id="t104" class="w" transform="translate(662,204)"><rect x="-15.5" y="-12.5" width="31" height="25"/><text y="-7.3"><tspan x="0">positive</tspan><tspan x="0" dy="4.3">regulation</tspan><tspan x="0" dy="4.3">of cellular</tspan><tspan x="0" dy="4.3">protein metabolic</tspan><tspan x="0" dy="4.3">process</tspan></text></g>
<g id="t105" class="w" transform="translate(695,205)"><rect x="-11.5" y="-10.5" width="23" height="21"/><text y="-5.1"><tspan x="0">regulation</tspan><tspan x="0" dy="4.3">of protein</tspan><tspan x="0" dy="4.3">modification</tspan><tspan x="0" dy="4.3">process</tspan></text></g>
<g id="t106" class="w" transform="translate(724,205)"><rect x="-10.5" y="-8" width="21" height="16"/><text y="-3"><tspan x="0">regulation</tspan><tspan x="0" dy="4.3">of protein</tspan><tspan x="0" dy="4.3">processing</tspan></text></g>
<g id="t107" class="y" transform="translate(755,204)"><rect x="-14.5" y="-12.5" width="29" height="25"/><text y="-7.3"><tspan x="0">regulation</tspan><tspan x="0" dy="4.3">of nitric</tspan><tspan x="0" dy="4.3">oxide metabolic</tspan><tspan x="0" dy="4.3">process</tspan></text></g>
<g id="t108" class="y" transform="translate(792,205)"><rect x="-16.5" y="-10.5" width="33" height="21"/><text y="-5.1"><tspan x="0">regulation</tspan><tspan x="0" dy="4.3">of nitric</tspan><tspan x="0" dy="4.3">oxide biosynthetic</tspan><tspan x="0" dy="4.3">process</tspan></text></g>
<g id="t109" class="w" transform="translate(842,204)"><rect x="-15" y="-14" width="30" height="28"/><text y="-7.3"><tspan x="0">regulation</tspan><tspan x="0" dy="4.3">of reactive</tspan><tspan x="0" dy="4.3">oxygen species</tspan><tspan x="0" dy="4.3">biosynthetic</tspan><tspan x="0" dy="4.3">process</tspan></text></g>
<g id="t110" class="y" transform="translate(946,205)"><rect x="-19" y="-8" width="38" height="16"/><text y="-.8"><tspan x="0">regulation</tspan><tspan x="0" dy="4.3">of acute inflammatory</tspan></text></g>
<g id="t111" class="y" transform="translate(986,205)"><rect x="-16" y="-8" width="32" height="16"/><text y="-3"><tspan x="0">regulation</tspan><tspan x="0" dy="4.3">of humoral</tspan><tspan x="0" dy="4.3">immune response</tspan></text></g>
<g id="t112" class="y" transform="translate(1021,204)"><rect x="-13" y="-12.5" width="26" height="25"/><text y="-5.1"><tspan x="0">positive</tspan><tspan x="0" dy="4.3">regulation</tspan><tspan x="0" dy="4.3">of phosphate</tspan><tspan x="0" dy="4.3">metabolism</tspan></text></g>
<g id="t113" class="w" transform="translate(1055,205)"><rect x="-16" y="-6" width="32" height="12"/><text y="-.8"><tspan x="0">regulation</tspan><tspan x="0" dy="4.3">of phosphorylation</tspan></text></g>
<g id="t114" class="y" transform="translate(1124,204)"><rect x="-15" y="-12.5" width="30" height="25"/><text y="-7.3"><tspan x="0">positive</tspan><tspan x="0" dy="4.3">regulation</tspan><tspan x="0" dy="4.3">of cytokine-mediated</tspan><tspan x="0" dy="4.3">signaling</tspan><tspan x="0" dy="4.3">pathway</tspan></text></g>
<g id="t115" class="w" transform="translate(695,261)"><rect x="-12" y="-12.5" width="24" height="25"/><text y="-7.3"><tspan x="0">positive</tspan><tspan x="0" dy="4.3">regulation</tspan><tspan x="0" dy="4.3">of protein</tspan><tspan x="0" dy="4.3">modification</tspan><tspan x="0" dy="4.3">process</tspan></text></g>
<g id="t116" class="w" transform="translate(793,261)"><rect x="-14.5" y="-8" width="29" height="16"/><text y="-3"><tspan x="0">regulation</tspan><tspan x="0" dy="4.3">of protein</tspan><tspan x="0" dy="4.3">dephosphorylation</tspan></text></g>
<g id="t117" class="y" transform="translate(830,261)"><rect x="-16.5" y="-12.5" width="33" height="25"/><text y="-7.3"><tspan x="0">negative</tspan><tspan x="0" dy="4.3">regulation</tspan><tspan x="0" dy="4.3">of nitric</tspan><tspan x="0" dy="4.3">oxide biosynthetic</tspan><tspan x="0" dy="4.3">process</tspan></text></g>
<g id="t118" class="y" transform="translate(946,261)"><rect x="-13.5" y="-8" width="27" height="16"/><text y="-.8"><tspan x="0">regulation</tspan><tspan x="0" dy="4.3">of complement</tspan></text></g>
<g id="t119" class="y" transform="translate(1021,261)"><rect x="-16" y="-8" width="32" height="16"/><text y="-3"><tspan x="0">positive</tspan><tspan x="0" dy="4.3">regulation</tspan><tspan x="0" dy="4.3">of phosphorylation</tspan></text></g>
<g id="t120" class="w" transform="translate(793,306)"><rect x="-17" y="-8.5" width="34" height="17"/><text y="-3"><tspan x="0">regulation</tspan><tspan x="0" dy="4.3">of peptidyl-tyrosine</tspan><tspan x="0" dy="4.3">phosphorylation</tspan></text></g>
<g id="t121" class="y" transform="translate(830,306)"><rect x="-14.5" y="-10.5" width="29" height="21"/><text y="-5.1"><tspan x="0">positive</tspan><tspan x="0" dy="4.3">regulation</tspan><tspan x="0" dy="4.3">of protein</tspan><tspan x="0" dy="4.3">phosphorylation</tspan></text></g>
<g id="t122" class="y" transform="translate(811,347)"><rect x="-17" y="-10.5" width="34" height="21"/><text y="-5.1"><tspan x="0">positive</tspan><tspan x="0" dy="4.3">regulation</tspan><tspan x="0" dy="4.3">of peptidyl-tyrosine</tspan><tspan x="0" dy="4.3">phosphorylation</tspan></text></g>
<g id="t123" class="l" transform="translate(1214,5)"><rect x="-12" y="-10" width="24" height="20"/><text y="5">process</text></g>
<g id="t124" class="o" transform="translate(1149,36)"><rect x="-12" y="-8" width="24" height="16"/><text y="-3"><tspan x="0">regulation</tspan><tspan x="0" dy="4.3">of response</tspan><tspan x="0" dy="4.3">to stimulus</tspan></text></g>
<g id="t125" class="w" transform="translate(1215,36)"><rect x="-10.5" y="-6" width="21" height="12"/><text y="-.8"><tspan x="0">regulation</tspan><tspan x="0" dy="4.3">of signaling</tspan></text></g>
<g id="t126" class="r" transform="translate(1253,36)"><rect x="-12" y="-10.5" width="24" height="21"/><text y="-5.1"><tspan x="0">positive</tspan><tspan x="0" dy="4.3">regulation</tspan><tspan x="0" dy="4.3">of biological</tspan><tspan x="0" dy="4.3">process</tspan></text></g>
<g id="t127" class="r" transform="translate(1481,36)"><rect x="-14.5" y="-8" width="29" height="16"/><text y="-3"><tspan x="0">regulation</tspan><tspan x="0" dy="4.3">of immune</tspan><tspan x="0" dy="4.3">system process</tspan></text></g>
<g id="t128" class="y" transform="translate(1511,36)"><rect x="-10.5" y="-8.5" width="21" height="17"/><text y="-3"><tspan x="0">regulation</tspan><tspan x="0" dy="4.3">of cellular</tspan><tspan x="0" dy="4.3">process</tspan></text></g>
<g id="t129" class="w" transform="translate(1560,36)"><rect x="-14" y="-8.5" width="28" height="17"/><text y="-3"><tspan x="0">regulation</tspan><tspan x="0" dy="4.3">of molecular</tspan><tspan x="0" dy="4.3">process</tspan></text></g>
<g id="t130" class="o" transform="translate(1149,71)"><rect x="-13.5" y="-12.5" width="27" height="25"/><text y="-7.3"><tspan x="0">positive</tspan><tspan x="0" dy="4.3">regulation</tspan><tspan x="0" dy="4.3">of multicellular</tspan><tspan x="0" dy="4.3">organismal</tspan><tspan x="0" dy="4.3">process</tspan></text></g>
<g id="t131" class="y" transform="translate(1181,71)"><rect x="-12" y="-10.5" width="24" height="21"/><text y="-5.1"><tspan x="0">regulation</tspan><tspan x="0" dy="4.3">of response</tspan><tspan x="0" dy="4.3">to external</tspan><tspan x="0" dy="4.3">stimulus</tspan></text></g>
<g id="t132" class="r" transform="translate(1235,71)"><rect x="-12" y="-10.5" width="24" height="21"/><text y="-5.1"><tspan x="0">positive</tspan><tspan x="0" dy="4.3">regulation</tspan><tspan x="0" dy="4.3">of response</tspan><tspan x="0" dy="4.3">to stimulus</tspan></text></g>
<g id="t133" class="w" transform="translate(1263,71)"><rect x="-10" y="-8" width="20" height="16"/><text y="-3"><tspan x="0">positive</tspan><tspan x="0" dy="4.3">regulation</tspan><tspan x="0" dy="4.3">of signaling</tspan></text></g>
<g id="t134" class="y" transform="translate(1299,71)"><rect x="-18.5" y="-6.5" width="37" height="13"/><text y="-.8"><tspan x="0">regulation</tspan><tspan x="0" dy="4.3">of cell communication</tspan></text></g>
<g id="t135" class="y" transform="translate(1334,71)"><rect x="-10.5" y="-8" width="21" height="16"/><text y="-3"><tspan x="0">regulation</tspan><tspan x="0" dy="4.3">of cytokine</tspan><tspan x="0" dy="4.3">production</tspan></text></g>
<g id="t136" class="o" transform="translate(1384,71)"><rect x="-11" y="-8.5" width="22" height="17"/><text y="-3"><tspan x="0">regulation</tspan><tspan x="0" dy="4.3">of immune</tspan><tspan x="0" dy="4.3">response</tspan></text></g>
<g id="t137" class="o" transform="translate(1459,71)"><rect x="-16" y="-6.5" width="32" height="13"/><text y="-.8"><tspan x="0">regulation</tspan><tspan x="0" dy="4.3">of cell proliferation</tspan></text></g>
<g id="t138" class="o" transform="translate(1492.5,71)"><rect x="-10.5" y="-10.5" width="21" height="21"/><text y="-5.1"><tspan x="0">positive</tspan><tspan x="0" dy="4.3">regulation</tspan><tspan x="0" dy="4.3">of cellular</tspan><tspan x="0" dy="4.3">process</tspan></text></g>
<g id="t139" class="y" transform="translate(1534,71)"><rect x="-11" y="-10.5" width="22" height="21"/><text y="-5.1"><tspan x="0">regulation</tspan><tspan x="0" dy="4.3">of immune</tspan><tspan x="0" dy="4.3">effector</tspan><tspan x="0" dy="4.3">process</tspan></text></g>
<g id="t140" class="r" transform="translate(1573,71)"><rect x="-14.5" y="-10.5" width="29" height="21"/><text y="-5.1"><tspan x="0">positive</tspan><tspan x="0" dy="4.3">regulation</tspan><tspan x="0" dy="4.3">of immune</tspan><tspan x="0" dy="4.3">system process</tspan></text></g>
<g id="t141" class="y" transform="translate(1652,71)"><rect x="-14.5" y="-6.5" width="29" height="13"/><text y="-.8"><tspan x="0">regulation</tspan><tspan x="0" dy="4.3">of cell activation</tspan></text></g>
<g id="t142" class="y" transform="translate(1152,110)"><rect x="-18.5" y="-8.5" width="37" height="17"/><text y="-3"><tspan x="0">negative</tspan><tspan x="0" dy="4.3">regulation</tspan><tspan x="0" dy="4.3">of cell communication</tspan></text></g>
<g id="t143" class="y" transform="translate(1200,110)"><rect x="-10.5" y="-12.5" width="21" height="25"/><text y="-7.3"><tspan x="0">positive</tspan><tspan x="0" dy="4.3">regulation</tspan><tspan x="0" dy="4.3">of response</tspan><tspan x="0" dy="4.3">to external</tspan><tspan x="0" dy="4.3">stimulus</tspan></text></g>
<g id="t144" class="w" transform="translate(1230,110)"><rect x="-12" y="-8" width="24" height="16"/><text y="-3"><tspan x="0">regulation</tspan><tspan x="0" dy="4.3">of signal</tspan><tspan x="0" dy="4.3">transduction</tspan></text></g>
<g id="t145" class="w" transform="translate(1284,110)"><rect x="-11" y="-10.5" width="22" height="21"/><text y="-5.1"><tspan x="0">positive</tspan><tspan x="0" dy="4.3">regulation</tspan><tspan x="0" dy="4.3">of cytokine</tspan><tspan x="0" dy="4.3">production</tspan></text></g>
<g id="t146" class="y" transform="translate(1320,110)"><rect x="-18.5" y="-8.5" width="37" height="17"/><text y="-3"><tspan x="0">positive</tspan><tspan x="0" dy="4.3">regulation</tspan><tspan x="0" dy="4.3">of cell communication</tspan></text></g>
<g id="t147" class="y" transform="translate(1372,110)"><rect x="-16" y="-8.5" width="32" height="17"/><text y="-3"><tspan x="0">regulation</tspan><tspan x="0" dy="4.3">of type 2 immune</tspan><tspan x="0" dy="4.3">response</tspan></text></g>
<g id="t148" class="l" transform="translate(1417.5,110)"><rect x="-11.5" y="-10.5" width="23" height="21"/><text y="-5.1"><tspan x="0">regulation</tspan><tspan x="0" dy="4.3">of cellular</tspan><tspan x="0" dy="4.3">component</tspan><tspan x="0" dy="4.3">organization</tspan></text></g>
<g id="t149" class="y" transform="translate(1449,110)"><rect x="-14" y="-8.5" width="28" height="17"/><text y="-3"><tspan x="0">regulation</tspan><tspan x="0" dy="4.3">of epithelial</tspan><tspan x="0" dy="4.3">cell proliferation</tspan></text></g>
<g id="t150" class="o" transform="translate(1485,110)"><rect x="-16" y="-8.5" width="32" height="17"/><text y="-3"><tspan x="0">positive</tspan><tspan x="0" dy="4.3">regulation</tspan><tspan x="0" dy="4.3">of cell proliferation</tspan></text></g>
<g id="t151" class="y" transform="translate(1544,110)"><rect x="-12" y="-15" width="24" height="30"/><text y="-11.6"><tspan x="0">regulation</tspan><tspan x="0" dy="4.3">of production</tspan><tspan x="0" dy="4.3">of molecular</tspan><tspan x="0" dy="4.3">mediator</tspan><tspan x="0" dy="4.3">of immune</tspan><tspan x="0" dy="4.3">response</tspan></text></g>
<g id="t152" class="o" transform="translate(1573,110)"><rect x="-11" y="-10.5" width="22" height="21"/><text y="-5.1"><tspan x="0">positive</tspan><tspan x="0" dy="4.3">regulation</tspan><tspan x="0" dy="4.3">of immune</tspan><tspan x="0" dy="4.3">response</tspan></text></g>
<g id="t153" class="w" transform="translate(1601,110)"><rect x="-10.5" y="-12.5" width="21" height="25"/><text y="-7.3"><tspan x="0">positive</tspan><tspan x="0" dy="4.3">regulation</tspan><tspan x="0" dy="4.3">of immune</tspan><tspan x="0" dy="4.3">effector</tspan><tspan x="0" dy="4.3">process</tspan></text></g>
<g id="t154" class="l" transform="translate(1657,110)"><rect x="-14.5" y="-8.5" width="29" height="17"/><text y="-3"><tspan x="0">positive</tspan><tspan x="0" dy="4.3">regulation</tspan><tspan x="0" dy="4.3">of cell activation</tspan></text></g>
<g id="t155" class="w" transform="translate(1690,110)"><rect x="-12" y="-8.5" width="24" height="17"/><text y="-3"><tspan x="0">regulation</tspan><tspan x="0" dy="4.3">of leukocyte</tspan><tspan x="0" dy="4.3">activation</tspan></text></g>
<g id="t156" class="y" transform="translate(1124,153)"><rect x="-12" y="-10.5" width="24" height="21"/><text y="-5.1"><tspan x="0">negative</tspan><tspan x="0" dy="4.3">regulation</tspan><tspan x="0" dy="4.3">of signal</tspan><tspan x="0" dy="4.3">transduction</tspan></text></g>
<g id="t157" class="y" transform="translate(1160,153)"><rect x="-18.5" y="-10.5" width="37" height="21"/><text y="-5.1"><tspan x="0">regulation</tspan><tspan x="0" dy="4.3">of cytokine-mediated</tspan><tspan x="0" dy="4.3">signaling</tspan><tspan x="0" dy="4.3">pathway</tspan></text></g>
<g id="t158" class="y" transform="translate(1198,153)"><rect x="-13" y="-15" width="26" height="30"/><text y="-9.4"><tspan x="0">regulation</tspan><tspan x="0" dy="4.3">of insulin-like</tspan><tspan x="0" dy="4.3">growth factor</tspan><tspan x="0" dy="4.3">receptor</tspan><tspan x="0" dy="4.3">signaling</tspan><tspan x="0" dy="4.3">pathway</tspan></text></g>
<g id="t159" class="w" transform="translate(1245,153)"><rect x="-17" y="-8.5" width="34" height="17"/><text y="-3"><tspan x="0">regulation</tspan><tspan x="0" dy="4.3">of intracellular</tspan><tspan x="0" dy="4.3">signal transduction</tspan></text></g>
<g id="t160" class="y" transform="translate(1278,153)"><rect x="-11" y="-8.5" width="22" height="17"/><text y="-3"><tspan x="0">regulation</tspan><tspan x="0" dy="4.3">of muscle</tspan><tspan x="0" dy="4.3">contraction</tspan></text></g>
<g id="t161" class="w" transform="translate(1312,153)"><rect x="-16.5" y="-6.5" width="33" height="13"/><text y="-.8"><tspan x="0">regulation</tspan><tspan x="0" dy="4.3">of heart contraction</tspan></text></g>
<g id="t162" class="y" transform="translate(1346,153)"><rect x="-11" y="-10.5" width="22" height="21"/><text y="-5.1"><tspan x="0">positive</tspan><tspan x="0" dy="4.3">regulation</tspan><tspan x="0" dy="4.3">of signal</tspan><tspan x="0" dy="4.3">transduction</tspan></text></g>
<g id="t163" class="y" transform="translate(1407,153)"><rect x="-11" y="-15" width="22" height="30"/><text y="-11.6"><tspan x="0">regulation</tspan><tspan x="0" dy="4.3">of cytokine</tspan><tspan x="0" dy="4.3">production</tspan><tspan x="0" dy="4.3">involved</tspan><tspan x="0" dy="4.3">in immune</tspan><tspan x="0" dy="4.3">response</tspan></text></g>
<g id="t164" class="l" transform="translate(1445,153)"><rect x="-12" y="-12.5" width="24" height="25"/><text y="-7.3"><tspan x="0">positive</tspan><tspan x="0" dy="4.3">regulation</tspan><tspan x="0" dy="4.3">of cellular</tspan><tspan x="0" dy="4.3">component</tspan><tspan x="0" dy="4.3">organization</tspan></text></g>
<g id="t165" class="w" transform="translate(1544,153)"><rect x="-12" y="-17" width="24" height="34"/><text y="-15.8"><tspan x="0">positive</tspan><tspan x="0" dy="4.3">regulation</tspan><tspan x="0" dy="4.3">of production</tspan><tspan x="0" dy="4.3">of molecular</tspan><tspan x="0" dy="4.3">mediator</tspan><tspan x="0" dy="4.3">of immune</tspan><tspan x="0" dy="4.3">response</tspan></text></g>
<g id="t166" class="y" transform="translate(1618,153)"><rect x="-12" y="-10.5" width="24" height="21"/><text y="-5.1"><tspan x="0">positive</tspan><tspan x="0" dy="4.3">regulation</tspan><tspan x="0" dy="4.3">of leukocyte</tspan><tspan x="0" dy="4.3">activation</tspan></text></g>
<g id="t167" class="y" transform="translate(1663,153)"><rect x="-14.5" y="-8.5" width="29" height="17"/><text y="-3"><tspan x="0">regulation</tspan><tspan x="0" dy="4.3">of myeloid</tspan><tspan x="0" dy="4.3">cell activation</tspan></text></g>
<g id="t168" class="w" transform="translate(1162,204)"><rect x="-16" y="-12.5" width="32" height="25"/><text y="-7.3"><tspan x="0">regulation</tspan><tspan x="0" dy="4.3">of tumor necrosis</tspan><tspan x="0" dy="4.3">factor-mediated</tspan><tspan x="0" dy="4.3">signaling</tspan><tspan x="0" dy="4.3">pathway</tspan></text></g>
<g id="t169" class="w" transform="translate(1257.5,205)"><rect x="-17" y="-11" width="34" height="22"/><text y="-5.1"><tspan x="0">positive</tspan><tspan x="0" dy="4.3">regulation</tspan><tspan x="0" dy="4.3">of intracellular</tspan><tspan x="0" dy="4.3">signal transduction</tspan></text></g>
<g id="t170" class="y" transform="translate(1291,205)"><rect x="-12.5" y="-8" width="25" height="16"/><text y="-3"><tspan x="0">regulation</tspan><tspan x="0" dy="4.3">of striated</tspan><tspan x="0" dy="4.3">muscle contraction</tspan></text></g>
<g id="t171" class="y" transform="translate(1360,205)"><rect x="-17" y="-8" width="34" height="16"/><text y="-.8"><tspan x="0">regulation</tspan><tspan x="0" dy="4.3">of the force of heart</tspan></text></g>
<g id="t172" class="y" transform="translate(1437,205)"><rect x="-11" y="-17" width="22" height="34"/><text y="-13.7"><tspan x="0">positive</tspan><tspan x="0" dy="4.3">regulation</tspan><tspan x="0" dy="4.3">of cytokine</tspan><tspan x="0" dy="4.3">production</tspan><tspan x="0" dy="4.3">involved</tspan><tspan x="0" dy="4.3">in immune</tspan><tspan x="0" dy="4.3">response</tspan></text></g>
<g id="t173" class="y" transform="translate(1617,205)"><rect x="-14" y="-9" width="28" height="18"/><text y="-3"><tspan x="0">regulation</tspan><tspan x="0" dy="4.3">of lymphocyte</tspan><tspan x="0" dy="4.3">activation</tspan></text></g>
<g id="t174" class="y" transform="translate(1649,205)"><rect x="-12.5" y="-10.5" width="25" height="21"/><text y="-5.1"><tspan x="0">positive</tspan><tspan x="0" dy="4.3">regulation</tspan><tspan x="0" dy="4.3">of lymphocyte</tspan><tspan x="0" dy="4.3">activation</tspan></text></g>
<g id="t175" class="y" transform="translate(1682,204)"><rect x="-13.5" y="-8" width="27" height="16"/><text y="-3"><tspan x="0">regulation</tspan><tspan x="0" dy="4.3">of mast cell</tspan><tspan x="0" dy="4.3">activation</tspan></text></g>
<g id="t176" class="w" transform="translate(1719,205)"><rect x="-15.5" y="-8" width="31" height="16"/><text y="-.8"><tspan x="0">regulation</tspan><tspan x="0" dy="4.3">of T cell activation</tspan></text></g>
<g id="t177" class="y" transform="translate(1753,205)"><rect x="-12" y="-12.5" width="24" height="25"/><text y="-7.3"><tspan x="0">positive</tspan><tspan x="0" dy="4.3">regulation</tspan><tspan x="0" dy="4.3">of heterotypic</tspan><tspan x="0" dy="4.3">cell-cell</tspan><tspan x="0" dy="4.3">adhesion</tspan></text></g>
<g id="t178" class="y" transform="translate(1784,205)"><rect x="-12" y="-12.5" width="24" height="25"/><text y="-7.3"><tspan x="0">positive</tspan><tspan x="0" dy="4.3">regulation</tspan><tspan x="0" dy="4.3">of homotypic</tspan><tspan x="0" dy="4.3">cell-cell</tspan><tspan x="0" dy="4.3">adhesion</tspan></text></g>
<g id="t179" class="w" transform="translate(1819,205)"><rect x="-19" y="-10.5" width="38" height="21"/><text y="-5.1"><tspan x="0">regulation</tspan><tspan x="0" dy="4.3">of ion transmembrane</tspan><tspan x="0" dy="4.3">transporter</tspan><tspan x="0" dy="4.3">activity</tspan></text></g>
<g id="t180" class="y" transform="translate(1868,205)"><rect x="-12" y="-11.5" width="24" height="23"/><text y="-5.1"><tspan x="0">regulation</tspan><tspan x="0" dy="4.3">of cation</tspan><tspan x="0" dy="4.3">transmembrane</tspan><tspan x="0" dy="4.3">transport</tspan></text></g>
<g id="t181" class="y" transform="translate(1903,205)"><rect x="-12" y="-10.5" width="24" height="21"/><text y="-5.1"><tspan x="0">regulation</tspan><tspan x="0" dy="4.3">of calcium</tspan><tspan x="0" dy="4.3">ion transport</tspan></text></g>
<g id="t182" class="w" transform="translate(1937,205)"><rect x="-16.5" y="-7" width="33" height="14"/><text y="-.8"><tspan x="0">regulation</tspan><tspan x="0" dy="4.3">of ion homeostasis</tspan></text></g>
<g id="t183" class="w" transform="translate(1973,205)"><rect x="-13.5" y="-8" width="27" height="16"/><text y="-3"><tspan x="0">regulation</tspan><tspan x="0" dy="4.3">of cytoplasmic</tspan><tspan x="0" dy="4.3">transport</tspan></text></g>
<g id="t184" class="y" transform="translate(2007,205)"><rect x="-13.5" y="-8" width="27" height="16"/><text y="-3"><tspan x="0">positive</tspan><tspan x="0" dy="4.3">regulation</tspan><tspan x="0" dy="4.3">of cell migration</tspan></text></g>
<g id="t185" class="y" transform="translate(2039,205)"><rect x="-11.5" y="-12.5" width="23" height="25"/><text y="-5.1"><tspan x="0">cell surface</tspan><tspan x="0" dy="4.3">receptor</tspan><tspan x="0" dy="4.3">signaling</tspan><tspan x="0" dy="4.3">pathway</tspan></text></g>
<g id="t186" class="w" transform="translate(2072,205)"><rect x="-16.5" y="-8" width="33" height="16"/><text y="-.8"><tspan x="0">intracellular</tspan><tspan x="0" dy="4.3">signal transduction</tspan></text></g>
<g id="t187" class="w" transform="translate(2107,205)"><rect x="-12" y="-8" width="24" height="16"/><text y="-.8"><tspan x="0">metal ion</tspan><tspan x="0" dy="4.3">homeostasis</tspan></text></g>
<g id="t188" class="w" transform="translate(2141,205)"><rect x="-17" y="-12.5" width="34" height="25"/><text y="-3"><tspan x="0">divalent</tspan><tspan x="0" dy="4.3">inorganic</tspan><tspan x="0" dy="4.3">cation homeostasis</tspan></text></g>
<g id="t189" class="w" transform="translate(2180,205)"><rect x="-16" y="-8" width="32" height="16"/><text y="-.8"><tspan x="0">cellular</tspan><tspan x="0" dy="4.3">cation homeostasis</tspan></text></g>
<g id="t190" class="y" transform="translate(1143,260)"><rect x="-15" y="-14.5" width="30" height="29"/><text y="-9.4"><tspan x="0">negative</tspan><tspan x="0" dy="4.3">regulation</tspan><tspan x="0" dy="4.3">of tumor necrosis</tspan><tspan x="0" dy="4.3">factor-mediated</tspan><tspan x="0" dy="4.3">signaling</tspan><tspan x="0" dy="4.3">pathway</tspan></text></g>
<g id="t191" class="y" transform="translate(1324,261)"><rect x="-15" y="-8" width="30" height="16"/><text y="-3"><tspan x="0">regulation</tspan><tspan x="0" dy="4.3">of cardiac</tspan><tspan x="0" dy="4.3">muscle contraction</tspan></text></g>
<g id="t192" class="y" transform="translate(1406,261)"><rect x="-13" y="-10.5" width="26" height="21"/><text y="-5.1"><tspan x="0">regulation</tspan><tspan x="0" dy="4.3">of macrophage</tspan><tspan x="0" dy="4.3">cytokine</tspan><tspan x="0" dy="4.3">production</tspan></text></g>
<g id="t193" class="y" transform="translate(1437,261)"><rect x="-11" y="-21.5" width="22" height="43"/><text y="-15.8"><tspan x="0">positive</tspan><tspan x="0" dy="4.3">regulation</tspan><tspan x="0" dy="4.3">of cytokine</tspan><tspan x="0" dy="4.3">production</tspan><tspan x="0" dy="4.3">involved</tspan><tspan x="0" dy="4.3">in immune</tspan><tspan x="0" dy="4.3">response</tspan><tspan x="0" dy="4.3">type 2</tspan></text></g>
<g id="t194" class="y" transform="translate(1735,261)"><rect x="-15" y="-8" width="30" height="16"/><text y="-3"><tspan x="0">positive</tspan><tspan x="0" dy="4.3">regulation</tspan><tspan x="0" dy="4.3">of T cell activation</tspan></text></g>
<g id="t195" class="w" transform="translate(1836,261)"><rect x="-13" y="-8" width="26" height="16"/><text y="-3"><tspan x="0">regulation</tspan><tspan x="0" dy="4.3">of cation</tspan><tspan x="0" dy="4.3">channel activity</tspan></text></g>
<g id="t196" class="y" transform="translate(1868,261)"><rect x="-12.5" y="-10.5" width="25" height="21"/><text y="-5.1"><tspan x="0">positive</tspan><tspan x="0" dy="4.3">regulation</tspan><tspan x="0" dy="4.3">of calcium</tspan><tspan x="0" dy="4.3">ion transport</tspan></text></g>
<g id="t197" class="w" transform="translate(1902,261)"><rect x="-17" y="-10.5" width="34" height="21"/><text y="-5.1"><tspan x="0">regulation</tspan><tspan x="0" dy="4.3">of calcium</tspan><tspan x="0" dy="4.3">ion transmembrane</tspan><tspan x="0" dy="4.3">transport</tspan></text></g>
<g id="t198" class="y" transform="translate(1938,261)"><rect x="-13" y="-10.5" width="26" height="21"/><text y="-5.1"><tspan x="0">regulation</tspan><tspan x="0" dy="4.3">of calcium</tspan><tspan x="0" dy="4.3">ion transport</tspan><tspan x="0" dy="4.3">into cytosol</tspan></text></g>
<g id="t199" class="y" transform="translate(2018,261)"><rect x="-23.5" y="-6.5" width="47" height="13"/><text y="-.8"><tspan x="0">second-messenger-mediated</tspan><tspan x="0" dy="4.3">signaling</tspan></text></g>
<g id="t200" class="w" transform="translate(2111,261)"><rect x="-12.5" y="-8.5" width="25" height="17"/><text y="-.8"><tspan x="0">calcium ion</tspan><tspan x="0" dy="4.3">homeostasis</tspan></text></g>
<g id="t201" class="y" transform="translate(2142,261)"><rect x="-12" y="-10.5" width="24" height="21"/><text y="-3"><tspan x="0">cellular</tspan><tspan x="0" dy="4.3">metal ion</tspan><tspan x="0" dy="4.3">homeostasis</tspan></text></g>
<g id="t202" class="w" transform="translate(2175,261)"><rect x="-16.5" y="-10.5" width="33" height="21"/><text y="-5.1"><tspan x="0">cellular</tspan><tspan x="0" dy="4.3">divalent</tspan><tspan x="0" dy="4.3">inorganic</tspan><tspan x="0" dy="4.3">cation homeostasis</tspan></text></g>
<g id="t203" class="y" transform="translate(1226,306)"><rect x="-15.5" y="-6.5" width="31" height="13"/><text y="-.8"><tspan x="0">regulation</tspan><tspan x="0" dy="4.3">of MAPK cascade</tspan></text></g>
<g id="t204" class="y" transform="translate(1422,306)"><rect x="-13" y="-12.5" width="26" height="25"/><text y="-7.3"><tspan x="0">positive</tspan><tspan x="0" dy="4.3">regulation</tspan><tspan x="0" dy="4.3">of macrophage</tspan><tspan x="0" dy="4.3">cytokine</tspan><tspan x="0" dy="4.3">production</tspan></text></g>
<g id="t205" class="w" transform="translate(1864,306)"><rect x="-17" y="-12.5" width="34" height="25"/><text y="-9.4"><tspan x="0">regulation</tspan><tspan x="0" dy="4.3">of calcium</tspan><tspan x="0" dy="4.3">ion transmembrane</tspan><tspan x="0" dy="4.3">transporter</tspan><tspan x="0" dy="4.3">activity</tspan></text></g>
<g id="t206" class="w" transform="translate(1902,306)"><rect x="-16" y="-6.5" width="32" height="13"/><text y="-.8"><tspan x="0">calcium-mediated</tspan><tspan x="0" dy="4.3">signaling</tspan></text></g>
<g id="t207" class="w" transform="translate(1938,306)"><rect x="-14" y="-12.5" width="28" height="25"/><text y="-9.4"><tspan x="0">regulation</tspan><tspan x="0" dy="4.3">of release</tspan><tspan x="0" dy="4.3">of sequestered</tspan><tspan x="0" dy="4.3">calcium ion</tspan><tspan x="0" dy="4.3">into cytosol</tspan></text></g>
<g id="t208" class="y" transform="translate(2142,306)"><rect x="-12" y="-8.5" width="24" height="17"/><text y="-3"><tspan x="0">cellular</tspan><tspan x="0" dy="4.3">calcium ion</tspan><tspan x="0" dy="4.3">homeostasis</tspan></text></g>
<g id="t209" class="y" transform="translate(1226,347)"><rect x="-15.5" y="-8" width="31" height="16"/><text y="-3"><tspan x="0">positive</tspan><tspan x="0" dy="4.3">regulation</tspan><tspan x="0" dy="4.3">of MAPK cascade</tspan></text></g>
<g id="t210" class="y" transform="translate(1820,347)"><rect x="-16.5" y="-12.5" width="33" height="25"/><text y="-9.4"><tspan x="0">regulation</tspan><tspan x="0" dy="4.3">of cardiac</tspan><tspan x="0" dy="4.3">muscle contraction</tspan><tspan x="0" dy="4.3">by calcium</tspan><tspan x="0" dy="4.3">ion signaling</tspan></text></g>
<g id="t211" class="y" transform="translate(1862,347)"><rect x="-18.5" y="-10" width="37" height="20"/><text y="-5.1"><tspan x="0">regulation</tspan><tspan x="0" dy="4.3">of ryanodine-sensitive</tspan><tspan x="0" dy="4.3">calcium-release</tspan><tspan x="0" dy="4.3">channel activity</tspan></text></g>
<g id="t212" class="w" transform="translate(1920,347)"><rect x="-15.5" y="-16.5" width="31" height="33"/><text y="-13.7"><tspan x="0">regulation</tspan><tspan x="0" dy="4.3">of release</tspan><tspan x="0" dy="4.3">of sequestered</tspan><tspan x="0" dy="4.3">calcium ion</tspan><tspan x="0" dy="4.3">into cytosol</tspan><tspan x="0" dy="4.3">by sarcoplasmic</tspan><tspan x="0" dy="4.3">reticulum</tspan></text></g>
<g id="t213" class="y" transform="translate(1871,393)"><rect x="-16.5" y="-17" width="33" height="34"/><text y="-15.8"><tspan x="0">regulation</tspan><tspan x="0" dy="4.3">of cardiac</tspan><tspan x="0" dy="4.3">muscle contraction</tspan><tspan x="0" dy="4.3">by regulation</tspan><tspan x="0" dy="4.3">of the release</tspan><tspan x="0" dy="4.3">of sequestered</tspan><tspan x="0" dy="4.3">calcium ion</tspan><tspan x="0" dy="4.3">into cytosol</tspan></text></g>
<g id="t214" class="r" transform="translate(1911,36)"><rect x="-13" y="-6.5" width="26" height="13"/><text y="-.8"><tspan x="0">regulation</tspan><tspan x="0" dy="4.3">of localization</tspan></text></g>
<g id="t215" class="o" transform="translate(2017,36)"><rect x="-12.5" y="-6.5" width="25" height="13"/><text y="-.8"><tspan x="0">regulation</tspan><tspan x="0" dy="4.3">of locomotion</tspan></text></g>
<g id="t216" class="y" transform="translate(2060,36)"><rect x="-11.5" y="-8" width="23" height="16"/><text y="-3"><tspan x="0">regulation</tspan><tspan x="0" dy="4.3">of hormone</tspan><tspan x="0" dy="4.3">levels</tspan></text></g>
<g id="t217" class="y" transform="translate(2093,36)"><rect x="-15.5" y="-6.5" width="31" height="13"/><text y="-.8"><tspan x="0">regulation</tspan><tspan x="0" dy="4.3">of blood pressure</tspan></text></g>
<g id="t218" class="y" transform="translate(2139,36)"><rect x="-12" y="-6.5" width="24" height="13"/><text y="-.8"><tspan x="0">homeostatic</tspan><tspan x="0" dy="4.3">process</tspan></text></g>
<g id="t219" class="l" transform="translate(2077,4)"><rect x="-12" y="-8" width="24" height="16"/><text y="5">level</text></g>
<g id="t220" class="w" transform="translate(1785,71)"><rect x="-14" y="-6.5" width="28" height="13"/><text y="-.8"><tspan x="0">regulation</tspan><tspan x="0" dy="4.3">of cell adhesion</tspan></text></g>
<g id="t221" class="l" transform="translate(1863,71)"><rect x="-11" y="-6.5" width="22" height="13"/><text y="-.8"><tspan x="0">regulation</tspan><tspan x="0" dy="4.3">of transport</tspan></text></g>
<g id="t222" class="w" transform="translate(1960,71)"><rect x="-11" y="-8" width="22" height="16"/><text y="-3"><tspan x="0">regulation</tspan><tspan x="0" dy="4.3">of cellular</tspan><tspan x="0" dy="4.3">localization</tspan></text></g>
<g id="t223" class="o" transform="translate(1987,71)"><rect x="-12" y="-10.5" width="24" height="21"/><text y="-5.1"><tspan x="0">regulation</tspan><tspan x="0" dy="4.3">of cellular</tspan><tspan x="0" dy="4.3">component</tspan><tspan x="0" dy="4.3">movement</tspan></text></g>
<g id="t224" class="y" transform="translate(2017.5,71)"><rect x="-11.5" y="-8" width="23" height="16"/><text y="-3"><tspan x="0">positive</tspan><tspan x="0" dy="4.3">regulation</tspan><tspan x="0" dy="4.3">of locomotion</tspan></text></g>
<g id="t225" class="y" transform="translate(2139,71)"><rect x="-12" y="-6.5" width="24" height="13"/><text y="-.8"><tspan x="0">chemical</tspan><tspan x="0" dy="4.3">homeostasis</tspan></text></g>
<g id="t226" class="w" transform="translate(2171,71)"><rect x="-12" y="-6.5" width="24" height="13"/><text y="-.8"><tspan x="0">cellular</tspan><tspan x="0" dy="4.3">homeostasis</tspan></text></g>
<g id="t227" class="y" transform="translate(1718.5,110)"><rect x="-11" y="-8" width="22" height="16"/><text y="-3"><tspan x="0">positive</tspan><tspan x="0" dy="4.3">regulation</tspan><tspan x="0" dy="4.3">of transport</tspan></text></g>
<g id="t228" class="w" transform="translate(1752,110)"><rect x="-17.5" y="-8.5" width="35" height="17"/><text y="-3"><tspan x="0">regulation</tspan><tspan x="0" dy="4.3">of vesicle-mediated</tspan><tspan x="0" dy="4.3">transport</tspan></text></g>
<g id="t229" class="w" transform="translate(1785,110)"><rect x="-11" y="-8.5" width="22" height="17"/><text y="-3"><tspan x="0">regulation</tspan><tspan x="0" dy="4.3">of cell-cell</tspan><tspan x="0" dy="4.3">adhesion</tspan></text></g>
<g id="t230" class="y" transform="translate(1816,110)"><rect x="-14" y="-8.5" width="28" height="17"/><text y="-3"><tspan x="0">positive</tspan><tspan x="0" dy="4.3">regulation</tspan><tspan x="0" dy="4.3">of cell adhesion</tspan></text></g>
<g id="t231" class="w" transform="translate(1848,110)"><rect x="-13.5" y="-8.5" width="27" height="17"/><text y="-3"><tspan x="0">regulation</tspan><tspan x="0" dy="4.3">of transporter</tspan><tspan x="0" dy="4.3">activity</tspan></text></g>
<g id="t232" class="w" transform="translate(1883,110)"><rect x="-16" y="-8.5" width="32" height="17"/><text y="-3"><tspan x="0">regulation</tspan><tspan x="0" dy="4.3">of transmembrane</tspan><tspan x="0" dy="4.3">transport</tspan></text></g>
<g id="t233" class="l" transform="translate(1919,110)"><rect x="-13.5" y="-6.5" width="27" height="13"/><text y="-.8"><tspan x="0">regulation</tspan><tspan x="0" dy="4.3">of ion transport</tspan></text></g>
<g id="t234" class="y" transform="translate(1964,110)"><rect x="-13.5" y="-8.5" width="27" height="17"/><text y="-3"><tspan x="0">regulation</tspan><tspan x="0" dy="4.3">of intracellular</tspan><tspan x="0" dy="4.3">transport</tspan></text></g>
<g id="t235" class="y" transform="translate(1995,110)"><rect x="-11.5" y="-12.5" width="23" height="25"/><text y="-7.3"><tspan x="0">positive</tspan><tspan x="0" dy="4.3">regulation</tspan><tspan x="0" dy="4.3">of cellular</tspan><tspan x="0" dy="4.3">component</tspan><tspan x="0" dy="4.3">movement</tspan></text></g>
<g id="t236" class="l" transform="translate(2037,110)"><rect x="-13" y="-6.5" width="26" height="13"/><text y="-.8"><tspan x="0">regulation</tspan><tspan x="0" dy="4.3">of cell motility</tspan></text></g>
<g id="t237" class="w" transform="translate(2137,110)"><rect x="-15" y="-6.5" width="30" height="13"/><text y="1.4">ion homeostasis</text></g>
<g id="t238" class="y" transform="translate(2171,110)"><rect x="-12" y="-8.5" width="24" height="17"/><text y="-3"><tspan x="0">cellular</tspan><tspan x="0" dy="4.3">chemical</tspan><tspan x="0" dy="4.3">homeostasis</tspan></text></g>
<g id="t239" class="y" transform="translate(1695,153)"><rect x="-13.5" y="-8.5" width="27" height="17"/><text y="-3"><tspan x="0">regulation</tspan><tspan x="0" dy="4.3">of lymphocyte</tspan><tspan x="0" dy="4.3">activation</tspan></text></g>
<g id="t240" class="w" transform="translate(1727,153)"><rect x="-12.5" y="-10.5" width="25" height="21"/><text y="-5.1"><tspan x="0">regulation</tspan><tspan x="0" dy="4.3">of heterotypic</tspan><tspan x="0" dy="4.3">cell-cell</tspan><tspan x="0" dy="4.3">adhesion</tspan></text></g>
<g id="t241" class="w" transform="translate(1757,153)"><rect x="-12.5" y="-10.5" width="25" height="21"/><text y="-5.1"><tspan x="0">regulation</tspan><tspan x="0" dy="4.3">of homotypic</tspan><tspan x="0" dy="4.3">cell-cell</tspan><tspan x="0" dy="4.3">adhesion</tspan></text></g>
<g id="t242" class="w" transform="translate(1785,153)"><rect x="-11" y="-10.5" width="22" height="21"/><text y="-5.1"><tspan x="0">positive</tspan><tspan x="0" dy="4.3">regulation</tspan><tspan x="0" dy="4.3">of cell-cell</tspan><tspan x="0" dy="4.3">adhesion</tspan></text></g>
<g id="t243" class="w" transform="translate(1818,153)"><rect x="-16.5" y="-10.5" width="33" height="21"/><text y="-5.1"><tspan x="0">regulation</tspan><tspan x="0" dy="4.3">of transmembrane</tspan><tspan x="0" dy="4.3">transporter</tspan><tspan x="0" dy="4.3">activity</tspan></text></g>
<g id="t244" class="y" transform="translate(1853,153)"><rect x="-13" y="-8.5" width="26" height="17"/><text y="-3"><tspan x="0">positive</tspan><tspan x="0" dy="4.3">regulation</tspan><tspan x="0" dy="4.3">of ion transport</tspan></text></g>
<g id="t245" class="w" transform="translate(1891,153)"><rect x="-19" y="-8.5" width="38" height="17"/><text y="-3"><tspan x="0">regulation</tspan><tspan x="0" dy="4.3">of ion transmembrane</tspan><tspan x="0" dy="4.3">transport</tspan></text></g>
<g id="t246" class="l" transform="translate(1928,153)"><rect x="-11.5" y="-8.5" width="23" height="17"/><text y="-3"><tspan x="0">regulation</tspan><tspan x="0" dy="4.3">of cation</tspan><tspan x="0" dy="4.3">transport</tspan></text></g>
<g id="t247" class="y" transform="translate(1993,153)"><rect x="-12.5" y="-8.5" width="25" height="17"/><text y="-3"><tspan x="0">positive</tspan><tspan x="0" dy="4.3">regulation</tspan><tspan x="0" dy="4.3">of cell motility</tspan></text></g>
<g id="t248" class="l" transform="translate(2025,153)"><rect x="-14.5" y="-6.5" width="29" height="13"/><text y="-.8"><tspan x="0">regulation</tspan><tspan x="0" dy="4.3">of cell migration</tspan></text></g>
<g id="t249" class="w" transform="translate(2062,153)"><rect x="-16.5" y="-6.5" width="33" height="13"/><text y="1.4">signal transduction</text></g>
<g id="t250" class="w" transform="translate(2098,153)"><rect x="-15" y="-6.5" width="30" height="13"/><text y="-.8"><tspan x="0">inorganic</tspan><tspan x="0" dy="4.3">ion homeostasis</tspan></text></g>
<g id="t251" class="w" transform="translate(2135,153)"><rect x="-16.5" y="-6.5" width="33" height="13"/><text y="1.4">cation homeostasis</text></g>
<g id="t252" class="y" transform="translate(2174,153)"><rect x="-15" y="-6.5" width="30" height="13"/><text y="-.8"><tspan x="0">cellular</tspan><tspan x="0" dy="4.3">ion homeostasis</tspan></text></g>
<g id="t253" class="l" transform="translate(2212,153)"><rect x="-17" y="-10.5" width="34" height="21"/><text y="-3"><tspan x="0">antigen</tspan><tspan x="0" dy="4.3">processing</tspan></text></g>
</g>
<g id="lower-panel" clip-path="url(#c2)">
<g id="connectors-lower">
<g class="b"><path d="M55 435C400 434 1000 435 2195 435"/><path d="M55 439C300 438 500 436 700 435"/><path d="M55 466C300 468 800 460 1100 470C1500 474 1900 468 2195 478"/><path d="M55 549C300 549 700 550 1000 548C1200 546 1500 540 1700 520"/><path d="M55 506C500 504 1000 510 1500 506"/><path d="M740 661C900 661 1100 660 1190 675"/><path d="M432 648C470 660 600 660 800 662"/><path d="M350 700C360 712 600 720 840 728"/><path d="M740 508C1000 506 1300 508 1600 506"/></g>
<g class="d"><path d="M1150 470C1300 472 1500 466 1700 470"/><path d="M1230 506H1560"/><path d="M55 426H2195"/><path d="M1330 468C1500 480 1700 470 1850 472"/></g>
<g class="e">
<path d="M304 431L295 446"/><path d="M304 431L300 446"/><path d="M310 431L322 448"/><path d="M315 430L360 450"/><path d="M804 431L775 450"/><path d="M870 431L824 446"/><path d="M872 431L850 448"/><path d="M878 431L875 448"/><path d="M885 431L925 449"/><path d="M895 431L1020 448"/><path d="M900 431L1080 452"/><path d="M950 440L915 490"/><path d="M790 430L745 460"/><path d="M690 430L660 482"/><path d="M680 455C660 470 660 475 655 482"/>
<path d="M125 462L92 482"/><path d="M140 462L178 482"/><path d="M143 461L205 478"/><path d="M242 462V482"/><path d="M250 462C262 480 265 500 265 522"/><path d="M68 500L88 484"/><path d="M85 497L70 522"/><path d="M90 497L105 522"/><path d="M95 497L140 523"/><path d="M100 496C150 490 180 510 185 520"/><path d="M80 497C60 530 100 500 170 522"/><path d="M183 498L187 521"/><path d="M212 500L219 517"/><path d="M225 498L260 522"/><path d="M243 498V520C240 540 225 560 222 564"/><path d="M367 462V483"/><path d="M375 462L396 483"/><path d="M367 497V523"/><path d="M372 497L395 522"/><path d="M399 497V521"/><path d="M360 536L330 566"/><path d="M364 536V566"/><path d="M375 536L398 566"/><path d="M400 539L402 566"/><path d="M105 539L112 564"/><path d="M141 537L150 564"/><path d="M130 537L82 564"/><path d="M70 539L75 564"/><path d="M125 537C100 545 95 555 85 564"/><path d="M219 543L217 564"/><path d="M263 537L222 564"/><path d="M257 537L252 566"/><path d="M113 582L98 615"/><path d="M75 582V660C75 670 85 670 87 672"/><path d="M151 582L130 617"/><path d="M188 539L197 617"/><path d="M217 582L228 617"/><path d="M250 580L236 617"/><path d="M287 580L270 615"/><path d="M292 580L298 619"/><path d="M326 580L335 619"/><path d="M322 580L295 619"/><path d="M336 580L365 617"/><path d="M363 580L338 619"/><path d="M370 580L405 619"/><path d="M401 580L408 619"/><path d="M295 580C310 610 380 585 430 625C445 655 480 660 790 662"/><path d="M93 637L68 674"/><path d="M85 637C95 650 110 670 118 672"/><path d="M126 635V672"/><path d="M130 635L155 672"/><path d="M161 633V672"/><path d="M195 635L166 672"/><path d="M88 637C85 660 86 670 88 672"/><path d="M265 637C255 650 250 660 246 676"/><path d="M298 633C295 690 325 705 400 710"/><path d="M334 633L338 677"/><path d="M340 633L365 675"/><path d="M369 634L345 677"/><path d="M375 634L400 672"/><path d="M405 633L375 675"/><path d="M409 633V672"/><path d="M338 689L365 721"/><path d="M369 692V721"/><path d="M400 694L373 721"/><path d="M161 694V717"/><path d="M85 718V710"/><path d="M125 694L100 718"/><path d="M244 690C200 705 150 715 136 723"/><path d="M65 691L60 759"/><path d="M85 743V761"/><path d="M120 737C110 750 90 760 65 765"/><path d="M155 743L148 755"/><path d="M60 785L75 801"/><path d="M144 789L110 801"/><path d="M65 700C60 740 70 760 78 761"/>
<path d="M640 483L580 523"/><path d="M648 497L622 523"/><path d="M655 497L614 572"/><path d="M660 497L665 523"/><path d="M670 486C700 490 900 490 1010 550"/><path d="M562 537V567"/><path d="M570 537L585 557"/><path d="M555 537C520 560 475 555 443 563"/><path d="M630 537C600 545 560 550 510 566"/><path d="M620 537C600 550 480 545 474 566"/><path d="M666 537V567"/><path d="M676 537L705 567"/><path d="M705 536L672 619"/><path d="M473 581V610"/><path d="M505 580V603"/><path d="M545 584V615"/><path d="M440 584C470 610 520 600 535 616"/><path d="M555 584L575 611"/><path d="M585 591V611"/><path d="M619 581L660 619"/><path d="M665 580V619"/><path d="M713 580L668 619"/><path d="M471 634L485 677"/><path d="M505 650L492 677"/><path d="M545 637L560 669"/><path d="M585 641L572 669"/><path d="M665 633V673"/><path d="M672 633L695 673"/><path d="M716 580L702 673"/><path d="M488 690V722"/>
<path d="M781 537L750 566"/><path d="M785 537L785 566"/><path d="M750 580L760 617"/><path d="M785 580L770 617"/><path d="M765 633V675"/><path d="M816 633V671"/><path d="M820 633L845 676"/><path d="M848 633V676"/><path d="M853 537L828 566"/><path d="M826 537L855 566"/><path d="M850 537L820 617"/><path d="M828 580L817 619"/><path d="M833 580L843 619"/><path d="M858 580L850 619"/><path d="M889 497L860 522"/><path d="M885 497L826 522"/><path d="M846 499L830 523"/><path d="M920 499L885 522"/><path d="M920 499L912 520"/><path d="M925 499L965 520"/><path d="M951 497"/><path d="M881 537L890 566"/><path d="M890 537L925 563"/><path d="M910 541L933 563"/><path d="M943 537L968 566"/><path d="M890 580L910 615"/><path d="M937 584L918 615"/><path d="M979 538C990 560 1000 600 1004 617"/><path d="M965 538L1012 566"/><path d="M1022 537L1043 619"/><path d="M1015 580L1006 617"/><path d="M1055 582L1046 619"/><path d="M1006 635V676"/><path d="M1043 633L1115 675"/><path d="M1100 584L1118 675"/><path d="M1142 584L1122 675"/><path d="M1183 584L1126 675"/><path d="M1033 498V522"/><path d="M1025 498L1022 523"/><path d="M1040 498L1055 522"/><path d="M1045 498L1090 522"/><path d="M1062 498V522"/><path d="M1070 498L1090 522"/><path d="M1062 538V565"/><path d="M1065 538C1060 550 1060 560 1061 565"/><path d="M1075 538L1095 562"/><path d="M1045 538L1105 565"/><path d="M1000 538L1060 565"/><path d="M1095 541L1098 562"/><path d="M1159 541L1180 563"/><path d="M1126 537L1070 565"/><path d="M1105 500V520"/><path d="M1144 497C1160 510 1180 520 1190 560C1200 600 1204 660 1204 675"/><path d="M1144 497L1215 523"/><path d="M1181 497L1212 523"/><path d="M1217 467V480"/><path d="M1250 498L1295 523"/><path d="M1240 467L1255 481"/><path d="M1220 467L1187 483"/><path d="M1217 500V522"/><path d="M1219 537L1255 565"/><path d="M1259 538V565"/><path d="M1300 541V566"/><path d="M1260 581V620"/><path d="M1299 580L1265 620"/><path d="M1259 633L1215 675"/><path d="M1265 581C1300 590 1350 580 1360 620"/><path d="M1265 582L1332 676"/><path d="M1360 633L1372 675"/><path d="M1336 690L1365 720"/><path d="M1374 690V719"/><path d="M1225 692C1150 730 1000 725 882 730"/><path d="M866 737V765"/><path d="M740 721L850 730"/><path d="M1470 520C1400 560 1340 700 1385 720C1400 719 1430 700 1470 640"/><path d="M1307 467C1300 500 1320 540 1350 560"/><path d="M1373 498L1365 566"/><path d="M1407 501L1380 566"/><path d="M1400 520L1410 565"/><path d="M1440 538L1450 565"/><path d="M1370 581L1392 618"/><path d="M1376 581L1420 619"/><path d="M1413 580L1425 619"/><path d="M1449 584L1430 619"/><path d="M1392 635L1412 675"/><path d="M1426 633L1420 675"/><path d="M1465 498L1452 562"/><path d="M1474 540C1460 545 1450 555 1448 562"/>
<path d="M1505 498L1518 524"/><path d="M1540 498L1525 524"/><path d="M1539 498C1530 510 1525 520 1522 524"/><path d="M1586 498C1560 560 1530 600 1522 617"/><path d="M1621 498L1597 522"/><path d="M1621 498V522"/><path d="M1630 498L1650 522"/><path d="M1653 498L1630 522"/><path d="M1685 498L1697 523"/><path d="M1590 539L1575 565"/><path d="M1592 539L1597 565"/><path d="M1621 539L1628 565"/><path d="M1653 539L1600 565"/><path d="M1653 539L1622 565"/><path d="M1653 539L1632 565"/><path d="M1702 537V565"/><path d="M1702 537L1737 522"/><path d="M1737 538V618"/><path d="M1710 537L1730 618"/><path d="M1702 581V618"/><path d="M1570 582V618"/><path d="M1570 582L1595 618"/><path d="M1599 582V618"/><path d="M1628 582L1605 618"/><path d="M1695 537C1660 620 1550 600 1525 618"/><path d="M1570 635L1582 675"/><path d="M1599 635L1590 675"/><path d="M1700 635L1685 675"/><path d="M1702 635L1714 675"/><path d="M1735 635L1720 675"/><path d="M1653 539C1650 620 1660 690 1678 722"/><path d="M1683 692V722"/><path d="M1714 692L1690 722"/><path d="M1518 635C1490 680 1450 690 1390 722"/><path d="M1772 537L1770 618"/><path d="M1778 537L1798 565"/><path d="M1790 498L1778 523"/><path d="M1790 464V482"/><path d="M1802 581V618"/><path d="M1767 581L1770 618"/><path d="M1821 498C1800 530 1795 550 1798 565"/><path d="M1825 498L1820 524"/><path d="M1854 498L1830 523"/><path d="M1860 498L1862 524"/><path d="M1824 537L1835 565"/><path d="M1864 537L1845 565"/><path d="M1839 581V618"/><path d="M1830 633L1816 675"/><path d="M1845 633L1858 675"/><path d="M1815 690L1830 722"/><path d="M1860 690L1842 722"/><path d="M1903 497V523"/><path d="M1910 497L1930 523"/><path d="M1938 498L1968 523"/><path d="M1903 537L1906 566"/><path d="M1936 537L1915 566"/><path d="M1938 537L1950 566"/><path d="M1975 537L1988 566"/><path d="M1900 581L1885 617"/><path d="M1915 581L1925 619"/><path d="M1945 581L1930 619"/><path d="M1950 581L1960 619"/><path d="M1955 581L1988 617"/><path d="M1925 633V675"/><path d="M1885 635L1920 675"/><path d="M1961 633V675"/><path d="M1990 635L1965 675"/><path d="M1928 692L1940 763"/><path d="M1961 692L1958 723"/><path d="M1955 737L1947 763"/><path d="M1992 581L2022 618"/><path d="M1975 530C1985 545 1990 560 1992 565"/><path d="M2080 497L2055 523"/><path d="M2084 497V523"/><path d="M2051 537V566"/><path d="M2084 537V565"/><path d="M2026 497L2018 522"/><path d="M2026 497C2010 520 2015 515 2016 522"/><path d="M2131 497V523"/><path d="M2141 466L2168 524"/><path d="M2179 462V483"/><path d="M2180 497L2174 521"/><path d="M2172 539V562"/><path d="M2172 584L2150 613"/><path d="M2146 639L2112 668"/><path d="M2021 462C2010 520 2080 590 2098 668"/><path d="M2070 470C2085 520 2100 640 2104 668"/><path d="M1700 497C1715 520 1700 525 1695 523"/><path d="M2055 464L2030 483"/><path d="M2021 462L2025 483"/><path d="M2026 497L2016 522"/><path d="M1960 430C1970 470 2000 490 2050 523"/><path d="M1915 431V448"/><path d="M1972 431V448"/><path d="M2041 431L2060 450"/><path d="M2079 431L2055 448"/><path d="M2079 431L2021 448"/><path d="M2110 431L2141 445"/><path d="M2175 431L2180 448"/><path d="M1331 431L1305 445"/><path d="M1397 431L1355 445"/><path d="M1435 431L1390 445"/><path d="M1473 431L1425 445"/><path d="M1508 431L1460 445"/><path d="M1602 431V445"/><path d="M1706 431L1686 445"/><path d="M1710 431L1725 445"/><path d="M1814 431V448"/><path d="M1848 431L1825 448"/><path d="M1240 470C1100 500 1000 700 1090 720"/>
</g></g>
<g id="b1" class="l" transform="translate(304,424)"><rect x="-12" y="-6" width="24" height="13"/><text y="3">level</text></g>
<g id="b2" class="y" transform="translate(804,424)"><rect x="-12" y="-6" width="24" height="13"/><text y="3">growth</text></g>
<g id="b3" class="l" transform="translate(874,424)"><rect x="-12" y="-6" width="24" height="13"/><text y="3">process</text></g>
<g id="b4" class="w" transform="translate(1331,424)"><rect x="-16" y="-6" width="32" height="13"/><text y="3">process</text></g>
<g id="b5" class="w" transform="translate(1397,424)"><rect x="-13" y="-6" width="26" height="13"/><text y="3">process</text></g>
<g id="b6" class="w" transform="translate(1435,424)"><rect x="-13" y="-6" width="26" height="13"/><text y="3">process</text></g>
<g id="b7" class="w" transform="translate(1473,424)"><rect x="-13" y="-6" width="26" height="13"/><text y="3">process</text></g>
<g id="b8" class="w" transform="translate(1508,425)"><rect x="-11" y="-7" width="22" height="15"/><text y="4">process</text></g>
<g id="b9" class="w" transform="translate(1602,424)"><rect x="-16" y="-6" width="32" height="13"/><text y="3">process</text></g>
<g id="b10" class="w" transform="translate(1706,424)"><rect x="-11" y="-6" width="22" height="13"/><text y="3">process</text></g>
<g id="b11" class="w" transform="translate(1814,424)"><rect x="-14" y="-6" width="28" height="13"/><text y="3">process</text></g>
<g id="b12" class="w" transform="translate(1848,424)"><rect x="-14" y="-6" width="28" height="13"/><text y="3">process</text></g>
<g id="b13" class="w" transform="translate(1883,424)"><rect x="-14" y="-6" width="28" height="13"/><text y="3">process</text></g>
<g id="b14" class="w" transform="translate(1912,425)"><rect x="-10" y="-7" width="20" height="15"/><text y="4">process</text></g>
<g id="b15" class="w" transform="translate(1947,424)"><rect x="-14" y="-6" width="28" height="13"/><text y="3">process</text></g>
<g id="b16" class="w" transform="translate(1989,424)"><rect x="-15" y="-6" width="30" height="13"/><text y="3">process</text></g>
<g id="b17" class="w" transform="translate(2041,424)"><rect x="-13" y="-6" width="26" height="13"/><text y="3">process</text></g>
<g id="b18" class="y" transform="translate(2079,424)"><rect x="-14" y="-6" width="28" height="13"/><text y="3">process</text></g>
<g id="b19" class="w" transform="translate(2140,424)"><rect x="-12" y="-6" width="24" height="13"/><text y="3">process</text></g>
<g id="b20" class="l" transform="translate(2175,424)"><rect x="-12" y="-6" width="24" height="13"/><text y="3">process</text></g>
<g id="b21" class="r" transform="translate(133.5,455)"><rect x="-13" y="-6.5" width="26" height="13"/><text y="-.8"><tspan x="0">regulation</tspan><tspan x="0" dy="4.3">of localization</tspan></text></g>
<g id="b22" class="o" transform="translate(242,455)"><rect x="-12.5" y="-6.5" width="25" height="13"/><text y="-.8"><tspan x="0">regulation</tspan><tspan x="0" dy="4.3">of locomotion</tspan></text></g>
<g id="b23" class="y" transform="translate(287,456)"><rect x="-11.5" y="-8" width="23" height="16"/><text y="-3"><tspan x="0">regulation</tspan><tspan x="0" dy="4.3">of hormone</tspan><tspan x="0" dy="4.3">levels</tspan></text></g>
<g id="b24" class="y" transform="translate(319.5,456)"><rect x="-15.5" y="-6.5" width="31" height="13"/><text y="-.8"><tspan x="0">regulation</tspan><tspan x="0" dy="4.3">of blood pressure</tspan></text></g>
<g id="b25" class="y" transform="translate(367,456)"><rect x="-12" y="-6.5" width="24" height="13"/><text y="-.8"><tspan x="0">homeostatic</tspan><tspan x="0" dy="4.3">process</tspan></text></g>
<g id="b26" class="w" transform="translate(183,490)"><rect x="-11" y="-8" width="22" height="16"/><text y="-3"><tspan x="0">regulation</tspan><tspan x="0" dy="4.3">of cellular</tspan><tspan x="0" dy="4.3">localization</tspan></text></g>
<g id="b27" class="o" transform="translate(212,490)"><rect x="-12" y="-10.5" width="24" height="21"/><text y="-5.1"><tspan x="0">regulation</tspan><tspan x="0" dy="4.3">of cellular</tspan><tspan x="0" dy="4.3">component</tspan><tspan x="0" dy="4.3">movement</tspan></text></g>
<g id="b28" class="y" transform="translate(243,490)"><rect x="-11.5" y="-8" width="23" height="16"/><text y="-3"><tspan x="0">positive</tspan><tspan x="0" dy="4.3">regulation</tspan><tspan x="0" dy="4.3">of locomotion</tspan></text></g>
<g id="b29" class="l" transform="translate(85,490)"><rect x="-11" y="-6.5" width="22" height="13"/><text y="-.8"><tspan x="0">regulation</tspan><tspan x="0" dy="4.3">of transport</tspan></text></g>
<g id="b30" class="y" transform="translate(367,490)"><rect x="-12" y="-6.5" width="24" height="13"/><text y="-.8"><tspan x="0">chemical</tspan><tspan x="0" dy="4.3">homeostasis</tspan></text></g>
<g id="b31" class="w" transform="translate(399,490)"><rect x="-12" y="-6.5" width="24" height="13"/><text y="-.8"><tspan x="0">cellular</tspan><tspan x="0" dy="4.3">homeostasis</tspan></text></g>
<g id="b32" class="o" transform="translate(654,490)"><rect x="-15" y="-6.5" width="30" height="13"/><text y="-.8"><tspan x="0">immune system</tspan><tspan x="0" dy="4.3">process</tspan></text></g>
<g id="b33" class="w" transform="translate(70,530)"><rect x="-12.5" y="-8.5" width="25" height="17"/><text y="-3"><tspan x="0">regulation</tspan><tspan x="0" dy="4.3">of transporter</tspan><tspan x="0" dy="4.3">activity</tspan></text></g>
<g id="b34" class="w" transform="translate(105,530)"><rect x="-16.5" y="-8.5" width="33" height="17"/><text y="-3"><tspan x="0">regulation</tspan><tspan x="0" dy="4.3">of transmembrane</tspan><tspan x="0" dy="4.3">transport</tspan></text></g>
<g id="b35" class="l" transform="translate(141.5,530)"><rect x="-13.5" y="-6.5" width="27" height="13"/><text y="-.8"><tspan x="0">regulation</tspan><tspan x="0" dy="4.3">of ion transport</tspan></text></g>
<g id="b36" class="y" transform="translate(188,530)"><rect x="-13.5" y="-8.5" width="27" height="17"/><text y="-3"><tspan x="0">regulation</tspan><tspan x="0" dy="4.3">of intracellular</tspan><tspan x="0" dy="4.3">transport</tspan></text></g>
<g id="b37" class="y" transform="translate(219,530)"><rect x="-11.5" y="-12.5" width="23" height="25"/><text y="-7.3"><tspan x="0">positive</tspan><tspan x="0" dy="4.3">regulation</tspan><tspan x="0" dy="4.3">of cellular</tspan><tspan x="0" dy="4.3">component</tspan><tspan x="0" dy="4.3">movement</tspan></text></g>
<g id="b38" class="l" transform="translate(263,530)"><rect x="-13" y="-6.5" width="26" height="13"/><text y="-.8"><tspan x="0">regulation</tspan><tspan x="0" dy="4.3">of cell motility</tspan></text></g>
<g id="b39" class="w" transform="translate(365,530)"><rect x="-14.5" y="-6" width="29" height="12"/><text y="1.4">ion homeostasis</text></g>
<g id="b40" class="y" transform="translate(400,530)"><rect x="-12" y="-8" width="24" height="16"/><text y="-3"><tspan x="0">cellular</tspan><tspan x="0" dy="4.3">chemical</tspan><tspan x="0" dy="4.3">homeostasis</tspan></text></g>
<g id="b41" class="y" transform="translate(562,530)"><rect x="-17.5" y="-6.5" width="35" height="13"/><text y="-.8"><tspan x="0">antigen processing</tspan><tspan x="0" dy="4.3">and presentation</tspan></text></g>
<g id="b42" class="o" transform="translate(616,530)"><rect x="-15" y="-6.5" width="30" height="13"/><text y="-.8"><tspan x="0">immune effector</tspan><tspan x="0" dy="4.3">process</tspan></text></g>
<g id="b43" class="r" transform="translate(666,530)"><rect x="-16.5" y="-6" width="33" height="12"/><text y="1.4">immune response</text></g>
<g id="b44" class="r" transform="translate(705.5,530)"><rect x="-16" y="-6" width="32" height="12"/><text y="-.8"><tspan x="0">cellular defense</tspan><tspan x="0" dy="4.3">response</tspan></text></g>
<g id="b45" class="o" transform="translate(743,530)"><rect x="-15.5" y="-6.5" width="31" height="13"/><text y="1.4">defense response</text></g>
<g id="b46" class="y" transform="translate(75.5,573)"><rect x="-14" y="-8.5" width="28" height="17"/><text y="-3"><tspan x="0">positive</tspan><tspan x="0" dy="4.3">regulation</tspan><tspan x="0" dy="4.3">of ion transport</tspan></text></g>
<g id="b47" class="w" transform="translate(113,573)"><rect x="-19.5" y="-8.5" width="39" height="17"/><text y="-3"><tspan x="0">regulation</tspan><tspan x="0" dy="4.3">of ion transmembrane</tspan><tspan x="0" dy="4.3">transport</tspan></text></g>
<g id="b48" class="l" transform="translate(151,573)"><rect x="-12" y="-8.5" width="24" height="17"/><text y="-3"><tspan x="0">regulation</tspan><tspan x="0" dy="4.3">of cation</tspan><tspan x="0" dy="4.3">transport</tspan></text></g>
<g id="b49" class="y" transform="translate(217,573)"><rect x="-13" y="-8.5" width="26" height="17"/><text y="-3"><tspan x="0">positive</tspan><tspan x="0" dy="4.3">regulation</tspan><tspan x="0" dy="4.3">of cell motility</tspan></text></g>
<g id="b50" class="l" transform="translate(250,573)"><rect x="-14.5" y="-6.5" width="29" height="13"/><text y="-.8"><tspan x="0">regulation</tspan><tspan x="0" dy="4.3">of cell migration</tspan></text></g>
<g id="b51" class="w" transform="translate(287,573)"><rect x="-16.5" y="-6.5" width="33" height="13"/><text y="1.4">signal transduction</text></g>
<g id="b52" class="w" transform="translate(326,573)"><rect x="-15" y="-6.5" width="30" height="13"/><text y="-.8"><tspan x="0">inorganic</tspan><tspan x="0" dy="4.3">ion homeostasis</tspan></text></g>
<g id="b53" class="w" transform="translate(363,573)"><rect x="-17" y="-6.5" width="34" height="13"/><text y="1.4">cation homeostasis</text></g>
<g id="b54" class="y" transform="translate(401,573)"><rect x="-15" y="-6.5" width="30" height="13"/><text y="-.8"><tspan x="0">cellular</tspan><tspan x="0" dy="4.3">ion homeostasis</tspan></text></g>
<g id="b55" class="l" transform="translate(440,573)"><rect x="-17" y="-10.5" width="34" height="21"/><text y="-5.1"><tspan x="0">antigen processing</tspan><tspan x="0" dy="4.3">and presentation</tspan><tspan x="0" dy="4.3">of exogenous</tspan><tspan x="0" dy="4.3">antigen</tspan></text></g>
<g id="b56" class="l" transform="translate(473,573)"><rect x="-11" y="-8" width="22" height="16"/><text y="-3"><tspan x="0">leukocyte</tspan><tspan x="0" dy="4.3">mediated</tspan><tspan x="0" dy="4.3">immunity</tspan></text></g>
<g id="b57" class="w" transform="translate(505,573)"><rect x="-16.5" y="-6.5" width="33" height="13"/><text y="-.8"><tspan x="0">adaptive</tspan><tspan x="0" dy="4.3">immune response</tspan></text></g>
<g id="b58" class="y" transform="translate(545,573)"><rect x="-17" y="-10.5" width="34" height="21"/><text y="-5.1"><tspan x="0">antigen processing</tspan><tspan x="0" dy="4.3">and presentation</tspan><tspan x="0" dy="4.3">of peptide</tspan><tspan x="0" dy="4.3">antigen</tspan></text></g>
<g id="b59" class="o" transform="translate(585,574)"><rect x="-17" y="-17" width="34" height="34"/><text y="-13.7"><tspan x="0">antigen processing</tspan><tspan x="0" dy="4.3">and presentation</tspan><tspan x="0" dy="4.3">of exogenous</tspan><tspan x="0" dy="4.3">peptide</tspan><tspan x="0" dy="4.3">antigen via</tspan><tspan x="0" dy="4.3">MHC class</tspan><tspan x="0" dy="4.3">I</tspan></text></g>
<g id="b60" class="l" transform="translate(619,573)"><rect x="-11" y="-8" width="22" height="16"/><text y="-3"><tspan x="0">activation</tspan><tspan x="0" dy="4.3">of immune</tspan><tspan x="0" dy="4.3">response</tspan></text></g>
<g id="b61" class="r" transform="translate(664.5,573)"><rect x="-15.5" y="-6.5" width="31" height="13"/><text y="-.8"><tspan x="0">immune response</tspan><tspan x="0" dy="4.3">regulating</tspan></text></g>
<g id="b62" class="y" transform="translate(713.5,573)"><rect x="-13.5" y="-6.5" width="27" height="13"/><text y="-.8"><tspan x="0">innate</tspan><tspan x="0" dy="4.3">immune response</tspan></text></g>
<g id="b63" class="w" transform="translate(752,573)"><rect x="-16.5" y="-6.5" width="33" height="13"/><text y="-.8"><tspan x="0">defense response</tspan><tspan x="0" dy="4.3">to other organism</tspan></text></g>
<g id="b64" class="w" transform="translate(57,626)"><rect x="-15" y="-8.5" width="30" height="17"/><text y="-3"><tspan x="0">regulation</tspan><tspan x="0" dy="4.3">of cation</tspan><tspan x="0" dy="4.3">channel activity</tspan></text></g>
<g id="b65" class="y" transform="translate(93.5,626)"><rect x="-14.5" y="-10.5" width="29" height="21"/><text y="-5.1"><tspan x="0">regulation</tspan><tspan x="0" dy="4.3">of cation</tspan><tspan x="0" dy="4.3">transmembrane</tspan><tspan x="0" dy="4.3">transport</tspan></text></g>
<g id="b66" class="y" transform="translate(126,626)"><rect x="-12" y="-8.5" width="24" height="17"/><text y="-3"><tspan x="0">regulation</tspan><tspan x="0" dy="4.3">of calcium</tspan><tspan x="0" dy="4.3">ion transport</tspan></text></g>
<g id="b67" class="w" transform="translate(161,626)"><rect x="-17" y="-6.5" width="34" height="13"/><text y="-.8"><tspan x="0">regulation</tspan><tspan x="0" dy="4.3">of ion homeostasis</tspan></text></g>
<g id="b68" class="w" transform="translate(197,626)"><rect x="-14" y="-8.5" width="28" height="17"/><text y="-3"><tspan x="0">regulation</tspan><tspan x="0" dy="4.3">of cytoplasmic</tspan><tspan x="0" dy="4.3">transport</tspan></text></g>
<g id="b69" class="y" transform="translate(232,626)"><rect x="-14" y="-8.5" width="28" height="17"/><text y="-3"><tspan x="0">positive</tspan><tspan x="0" dy="4.3">regulation</tspan><tspan x="0" dy="4.3">of cell migration</tspan></text></g>
<g id="b70" class="y" transform="translate(264,626)"><rect x="-11.5" y="-10.5" width="23" height="21"/><text y="-5.1"><tspan x="0">cell surface</tspan><tspan x="0" dy="4.3">receptor</tspan><tspan x="0" dy="4.3">signaling</tspan><tspan x="0" dy="4.3">pathway</tspan></text></g>
<g id="b71" class="w" transform="translate(298,626)"><rect x="-16.5" y="-6.5" width="33" height="13"/><text y="-.8"><tspan x="0">intracellular</tspan><tspan x="0" dy="4.3">signal transduction</tspan></text></g>
<g id="b72" class="w" transform="translate(334,626)"><rect x="-12" y="-6.5" width="24" height="13"/><text y="-.8"><tspan x="0">metal ion</tspan><tspan x="0" dy="4.3">homeostasis</tspan></text></g>
<g id="b73" class="w" transform="translate(369,626)"><rect x="-17" y="-8" width="34" height="16"/><text y="-3"><tspan x="0">divalent</tspan><tspan x="0" dy="4.3">inorganic</tspan><tspan x="0" dy="4.3">cation homeostasis</tspan></text></g>
<g id="b74" class="w" transform="translate(409,626)"><rect x="-17.5" y="-6.5" width="35" height="13"/><text y="-.8"><tspan x="0">cellular</tspan><tspan x="0" dy="4.3">cation homeostasis</tspan></text></g>
<g id="b75" class="l" transform="translate(471,626)"><rect x="-12" y="-8" width="24" height="16"/><text y="-3"><tspan x="0">lymphocyte</tspan><tspan x="0" dy="4.3">mediated</tspan><tspan x="0" dy="4.3">immunity</tspan></text></g>
<g id="b76" class="y" transform="translate(505,626)"><rect x="-16.5" y="-23.5" width="33" height="47"/><text y="-19.5"><tspan x="0">adaptive</tspan><tspan x="0" dy="4.3">immune response</tspan><tspan x="0" dy="4.3">based on somatic</tspan><tspan x="0" dy="4.3">recombination</tspan><tspan x="0" dy="4.3">of immune</tspan><tspan x="0" dy="4.3">receptors</tspan><tspan x="0" dy="4.3">built from</tspan><tspan x="0" dy="4.3">immunoglobulin</tspan><tspan x="0" dy="4.3">superfamily</tspan><tspan x="0" dy="4.3">domains</tspan></text></g>
<g id="b77" class="l" transform="translate(545,626)"><rect x="-17" y="-10.5" width="34" height="21"/><text y="-5.1"><tspan x="0">antigen processing</tspan><tspan x="0" dy="4.3">and presentation</tspan><tspan x="0" dy="4.3">of exogenous</tspan><tspan x="0" dy="4.3">peptide antigen</tspan></text></g>
<g id="b78" class="o" transform="translate(585,626)"><rect x="-17" y="-15" width="34" height="30"/><text y="-11.6"><tspan x="0">antigen processing</tspan><tspan x="0" dy="4.3">and presentation</tspan><tspan x="0" dy="4.3">of peptide</tspan><tspan x="0" dy="4.3">antigen via</tspan><tspan x="0" dy="4.3">MHC class</tspan><tspan x="0" dy="4.3">I</tspan></text></g>
<g id="b79" class="r" transform="translate(665,626)"><rect x="-12.5" y="-6.5" width="25" height="13"/><text y="-.8"><tspan x="0">complement</tspan><tspan x="0" dy="4.3">activation</tspan></text></g>
<g id="b80" class="w" transform="translate(62,683)"><rect x="-11" y="-8" width="22" height="16"/><text y="-3"><tspan x="0">regulation</tspan><tspan x="0" dy="4.3">of calcium</tspan><tspan x="0" dy="4.3">channel activity</tspan></text></g>
<g id="b81" class="y" transform="translate(90,683)"><rect x="-12" y="-10.5" width="24" height="21"/><text y="-5.1"><tspan x="0">positive</tspan><tspan x="0" dy="4.3">regulation</tspan><tspan x="0" dy="4.3">of calcium</tspan><tspan x="0" dy="4.3">ion transport</tspan></text></g>
<g id="b82" class="w" transform="translate(125.5,683)"><rect x="-18" y="-10.5" width="36" height="21"/><text y="-5.1"><tspan x="0">regulation</tspan><tspan x="0" dy="4.3">of calcium</tspan><tspan x="0" dy="4.3">ion transmembrane</tspan><tspan x="0" dy="4.3">transport</tspan></text></g>
<g id="b83" class="y" transform="translate(161,683)"><rect x="-12" y="-10.5" width="24" height="21"/><text y="-5.1"><tspan x="0">regulation</tspan><tspan x="0" dy="4.3">of calcium</tspan><tspan x="0" dy="4.3">ion transport</tspan><tspan x="0" dy="4.3">into cytosol</tspan></text></g>
<g id="b84" class="y" transform="translate(244,683)"><rect x="-24.5" y="-6.5" width="49" height="13"/><text y="-.8"><tspan x="0">second-messenger-mediated</tspan><tspan x="0" dy="4.3">signaling</tspan></text></g>
<g id="b85" class="w" transform="translate(338,683)"><rect x="-12.5" y="-6" width="25" height="12"/><text y="-.8"><tspan x="0">calcium ion</tspan><tspan x="0" dy="4.3">homeostasis</tspan></text></g>
<g id="b86" class="y" transform="translate(369,683)"><rect x="-12" y="-8.5" width="24" height="17"/><text y="-3"><tspan x="0">cellular</tspan><tspan x="0" dy="4.3">metal ion</tspan><tspan x="0" dy="4.3">homeostasis</tspan></text></g>
<g id="b87" class="w" transform="translate(404,683)"><rect x="-17" y="-10.5" width="34" height="21"/><text y="-5.1"><tspan x="0">cellular</tspan><tspan x="0" dy="4.3">divalent</tspan><tspan x="0" dy="4.3">inorganic</tspan><tspan x="0" dy="4.3">cation homeostasis</tspan></text></g>
<g id="b88" class="o" transform="translate(488,683)"><rect x="-14.5" y="-6.5" width="29" height="13"/><text y="-.8"><tspan x="0">B cell mediated</tspan><tspan x="0" dy="4.3">immunity</tspan></text></g>
<g id="b89" class="o" transform="translate(565,684)"><rect x="-17" y="-15" width="34" height="30"/><text y="-11.6"><tspan x="0">antigen processing</tspan><tspan x="0" dy="4.3">and presentation</tspan><tspan x="0" dy="4.3">of exogenous</tspan><tspan x="0" dy="4.3">peptide antigen</tspan><tspan x="0" dy="4.3">via MHC class</tspan><tspan x="0" dy="4.3">I</tspan></text></g>
<g id="b90" class="o" transform="translate(664.5,683)"><rect x="-12.5" y="-10.5" width="25" height="21"/><text y="-3"><tspan x="0">complement</tspan><tspan x="0" dy="4.3">activation,</tspan><tspan x="0" dy="4.3">classical pathway</tspan></text></g>
<g id="b91" class="y" transform="translate(700,683)"><rect x="-12.5" y="-10.5" width="25" height="21"/><text y="-3"><tspan x="0">complement</tspan><tspan x="0" dy="4.3">activation,</tspan><tspan x="0" dy="4.3">alternative pathway</tspan></text></g>
<g id="b92" class="w" transform="translate(85,730)"><rect x="-17.5" y="-12.5" width="35" height="25"/><text y="-7.3"><tspan x="0">regulation</tspan><tspan x="0" dy="4.3">of calcium</tspan><tspan x="0" dy="4.3">ion transmembrane</tspan><tspan x="0" dy="4.3">transporter</tspan><tspan x="0" dy="4.3">activity</tspan></text></g>
<g id="b93" class="w" transform="translate(125,730)"><rect x="-15.5" y="-6.5" width="31" height="13"/><text y="-.8"><tspan x="0">calcium-mediated</tspan><tspan x="0" dy="4.3">signaling</tspan></text></g>
<g id="b94" class="w" transform="translate(161,730)"><rect x="-14" y="-12.5" width="28" height="25"/><text y="-7.3"><tspan x="0">regulation</tspan><tspan x="0" dy="4.3">of release</tspan><tspan x="0" dy="4.3">of sequestered</tspan><tspan x="0" dy="4.3">calcium ion</tspan><tspan x="0" dy="4.3">into cytosol</tspan></text></g>
<g id="b95" class="y" transform="translate(369,730)"><rect x="-12" y="-8.5" width="24" height="17"/><text y="-3"><tspan x="0">cellular</tspan><tspan x="0" dy="4.3">calcium ion</tspan><tspan x="0" dy="4.3">homeostasis</tspan></text></g>
<g id="b96" class="l" transform="translate(488,730)"><rect x="-16" y="-8.5" width="32" height="17"/><text y="-3"><tspan x="0">immunoglobulin</tspan><tspan x="0" dy="4.3">mediated</tspan><tspan x="0" dy="4.3">immune response</tspan></text></g>
<g id="b97" class="y" transform="translate(50,772)"><rect x="-15" y="-12.5" width="30" height="25"/><text y="-5.1"><tspan x="0">regulation</tspan><tspan x="0" dy="4.3">of cardiac</tspan><tspan x="0" dy="4.3">muscle contraction</tspan></text></g>
<g id="b98" class="y" transform="translate(85,772)"><rect x="-19" y="-10.5" width="38" height="21"/><text y="-5.1"><tspan x="0">regulation</tspan><tspan x="0" dy="4.3">of ryanodine-sensitive</tspan><tspan x="0" dy="4.3">calcium-release</tspan><tspan x="0" dy="4.3">channel activity</tspan></text></g>
<g id="b99" class="w" transform="translate(144,772)"><rect x="-15.5" y="-17" width="31" height="34"/><text y="-13.7"><tspan x="0">regulation</tspan><tspan x="0" dy="4.3">of release</tspan><tspan x="0" dy="4.3">of sequestered</tspan><tspan x="0" dy="4.3">calcium ion</tspan><tspan x="0" dy="4.3">into cytosol</tspan><tspan x="0" dy="4.3">by sarcoplasmic</tspan><tspan x="0" dy="4.3">reticulum</tspan></text></g>
<g id="b100" class="y" transform="translate(93,818)"><rect x="-17.5" y="-17" width="35" height="34"/><text y="-13.7"><tspan x="0">regulation</tspan><tspan x="0" dy="4.3">of cardiac</tspan><tspan x="0" dy="4.3">muscle contraction</tspan><tspan x="0" dy="4.3">by regulation</tspan><tspan x="0" dy="4.3">of the release</tspan><tspan x="0" dy="4.3">of sequestered</tspan><tspan x="0" dy="4.3">calcium ion</tspan></text></g>
<g id="b101" class="y" transform="translate(762,456)"><rect x="-16.5" y="-6" width="33" height="12"/><text y="1.4">organ development</text></g>
<g id="b102" class="o" transform="translate(822,455)"><rect x="-10" y="-8" width="20" height="16"/><text y="-.8"><tspan x="0">response</tspan><tspan x="0" dy="4.3">to stress</tspan></text></g>
<g id="b103" class="y" transform="translate(848,455)"><rect x="-10" y="-8.5" width="20" height="17"/><text y="-3"><tspan x="0">response</tspan><tspan x="0" dy="4.3">to biotic</tspan><tspan x="0" dy="4.3">stimulus</tspan></text></g>
<g id="b104" class="y" transform="translate(874,455)"><rect x="-10" y="-8.5" width="20" height="17"/><text y="-3"><tspan x="0">response</tspan><tspan x="0" dy="4.3">to external</tspan><tspan x="0" dy="4.3">stimulus</tspan></text></g>
<g id="b105" class="y" transform="translate(930,455)"><rect x="-12.5" y="-6.5" width="25" height="13"/><text y="-.8"><tspan x="0">maintenance</tspan><tspan x="0" dy="4.3">of location</tspan></text></g>
<g id="b106" class="o" transform="translate(1033,455)"><rect x="-11" y="-8" width="22" height="16"/><text y="-.8"><tspan x="0">response</tspan><tspan x="0" dy="4.3">to chemical</tspan></text></g>
<g id="b107" class="w" transform="translate(1090,455)"><rect x="-11" y="-8" width="22" height="16"/><text y="-3"><tspan x="0">cellular</tspan><tspan x="0" dy="4.3">response</tspan><tspan x="0" dy="4.3">to stimulus</tspan></text></g>
<g id="b108" class="w" transform="translate(1217,456)"><rect x="-14.5" y="-10.5" width="29" height="21"/><text y="-3"><tspan x="0">macromolecule</tspan><tspan x="0" dy="4.3">metabolic</tspan><tspan x="0" dy="4.3">process</tspan></text></g>
<g id="b109" class="w" transform="translate(1305,456)"><rect x="-12.5" y="-10.5" width="25" height="21"/><text y="-3"><tspan x="0">nitrogen</tspan><tspan x="0" dy="4.3">metabolic</tspan><tspan x="0" dy="4.3">process</tspan></text></g>
<g id="b110" class="w" transform="translate(1353,456)"><rect x="-16.5" y="-10.5" width="33" height="21"/><text y="-5.1"><tspan x="0">organic substance</tspan><tspan x="0" dy="4.3">biosynthetic</tspan><tspan x="0" dy="4.3">process</tspan></text></g>
<g id="b111" class="w" transform="translate(1390,456)"><rect x="-14.5" y="-10.5" width="29" height="21"/><text y="-5.1"><tspan x="0">single-organism</tspan><tspan x="0" dy="4.3">biosynthetic</tspan><tspan x="0" dy="4.3">process</tspan></text></g>
<g id="b112" class="w" transform="translate(1425,456)"><rect x="-12" y="-10.5" width="24" height="21"/><text y="-5.1"><tspan x="0">carbohydrate</tspan><tspan x="0" dy="4.3">derivative</tspan><tspan x="0" dy="4.3">metabolic</tspan><tspan x="0" dy="4.3">process</tspan></text></g>
<g id="b113" class="w" transform="translate(1458,456)"><rect x="-12" y="-10.5" width="24" height="21"/><text y="-5.1"><tspan x="0">organic hydroxy</tspan><tspan x="0" dy="4.3">compound</tspan><tspan x="0" dy="4.3">metabolic</tspan><tspan x="0" dy="4.3">process</tspan></text></g>
<g id="b114" class="y" transform="translate(846,490)"><rect x="-13" y="-8.5" width="26" height="17"/><text y="-3"><tspan x="0">response</tspan><tspan x="0" dy="4.3">to external</tspan><tspan x="0" dy="4.3">biotic stimulus</tspan></text></g>
<g id="b115" class="w" transform="translate(889,490)"><rect x="-10.5" y="-6.5" width="21" height="13"/><text y="1.4">locomotion</text></g>
<g id="b116" class="l" transform="translate(920,490)"><rect x="-13.5" y="-8.5" width="27" height="17"/><text y="-3"><tspan x="0">response</tspan><tspan x="0" dy="4.3">to endogenous</tspan><tspan x="0" dy="4.3">stimulus</tspan></text></g>
<g id="b117" class="l" transform="translate(951,490)"><rect x="-12" y="-6.5" width="24" height="13"/><text y="1.4">fluid drainage</text></g>
<g id="b118" class="w" transform="translate(1003,490)"><rect x="-10.5" y="-10.5" width="21" height="21"/><text y="-5.1"><tspan x="0">response</tspan><tspan x="0" dy="4.3">to abiotic</tspan><tspan x="0" dy="4.3">stimulus</tspan></text></g>
<g id="b119" class="l" transform="translate(1033,490)"><rect x="-10.5" y="-8" width="21" height="16"/><text y="-3"><tspan x="0">response</tspan><tspan x="0" dy="4.3">to organic</tspan><tspan x="0" dy="4.3">substance</tspan></text></g>
<g id="b120" class="o" transform="translate(1062,490)"><rect x="-10.5" y="-8" width="21" height="16"/><text y="-3"><tspan x="0">response</tspan><tspan x="0" dy="4.3">to nitrogen</tspan><tspan x="0" dy="4.3">compound</tspan></text></g>
<g id="b121" class="y" transform="translate(1094,490)"><rect x="-12" y="-10.5" width="24" height="21"/><text y="-5.1"><tspan x="0">cellular</tspan><tspan x="0" dy="4.3">response</tspan><tspan x="0" dy="4.3">to chemical</tspan><tspan x="0" dy="4.3">stimulus</tspan></text></g>
<g id="b122" class="w" transform="translate(1144,490)"><rect x="-15.5" y="-6.5" width="31" height="13"/><text y="-.8"><tspan x="0">protein metabolic</tspan><tspan x="0" dy="4.3">process</tspan></text></g>
<g id="b123" class="w" transform="translate(1181,490)"><rect x="-14.5" y="-6.5" width="29" height="13"/><text y="-.8"><tspan x="0">macromolecule</tspan><tspan x="0" dy="4.3">modification</tspan></text></g>
<g id="b124" class="w" transform="translate(1217,490)"><rect x="-14.5" y="-10.5" width="29" height="21"/><text y="-5.1"><tspan x="0">cellular</tspan><tspan x="0" dy="4.3">macromolecule</tspan><tspan x="0" dy="4.3">metabolic</tspan><tspan x="0" dy="4.3">process</tspan></text></g>
<g id="b125" class="w" transform="translate(1250,490)"><rect x="-11.5" y="-8" width="23" height="16"/><text y="-3"><tspan x="0">phosphorus</tspan><tspan x="0" dy="4.3">metabolic</tspan><tspan x="0" dy="4.3">process</tspan></text></g>
<g id="b126" class="w" transform="translate(1281,490)"><rect x="-12.5" y="-10.5" width="25" height="21"/><text y="-5.1"><tspan x="0">cellular</tspan><tspan x="0" dy="4.3">catabolic</tspan><tspan x="0" dy="4.3">process</tspan></text></g>
<g id="b127" class="w" transform="translate(1314,490)"><rect x="-15" y="-10.5" width="30" height="21"/><text y="-5.1"><tspan x="0">organonitrogen</tspan><tspan x="0" dy="4.3">compound</tspan><tspan x="0" dy="4.3">metabolic</tspan><tspan x="0" dy="4.3">process</tspan></text></g>
<g id="b128" class="w" transform="translate(1373,490)"><rect x="-11.5" y="-8" width="23" height="16"/><text y="-3"><tspan x="0">aminoglycan</tspan><tspan x="0" dy="4.3">metabolic</tspan><tspan x="0" dy="4.3">process</tspan></text></g>
<g id="b129" class="w" transform="translate(1407,490)"><rect x="-14" y="-10.5" width="28" height="21"/><text y="-5.1"><tspan x="0">organic hydroxy</tspan><tspan x="0" dy="4.3">compound</tspan><tspan x="0" dy="4.3">biosynthetic</tspan><tspan x="0" dy="4.3">process</tspan></text></g>
<g id="b130" class="w" transform="translate(1464,490)"><rect x="-12" y="-8" width="24" height="16"/><text y="-3"><tspan x="0">small molecule</tspan><tspan x="0" dy="4.3">metabolic</tspan><tspan x="0" dy="4.3">process</tspan></text></g>
<g id="b131" class="y" transform="translate(781,530)"><rect x="-15.5" y="-6.5" width="31" height="13"/><text y="-.8"><tspan x="0">response</tspan><tspan x="0" dy="4.3">to other organism</tspan></text></g>
<g id="b132" class="l" transform="translate(826,530)"><rect x="-9" y="-6.5" width="18" height="13"/><text y="1.4">taxis</text></g>
<g id="b133" class="w" transform="translate(853,530)"><rect x="-11.5" y="-6.5" width="23" height="13"/><text y="1.4">cell motility</text></g>
<g id="b134" class="y" transform="translate(881,530)"><rect x="-10.5" y="-6.5" width="21" height="13"/><text y="-.8"><tspan x="0">response</tspan><tspan x="0" dy="4.3">to hormone</tspan></text></g>
<g id="b135" class="y" transform="translate(912,530)"><rect x="-13.5" y="-10.5" width="27" height="21"/><text y="-5.1"><tspan x="0">cellular</tspan><tspan x="0" dy="4.3">response</tspan><tspan x="0" dy="4.3">to endogenous</tspan><tspan x="0" dy="4.3">stimulus</tspan></text></g>
<g id="b136" class="y" transform="translate(943,530)"><rect x="-11" y="-6.5" width="22" height="13"/><text y="-.8"><tspan x="0">response</tspan><tspan x="0" dy="4.3">to cytokine</tspan></text></g>
<g id="b137" class="o" transform="translate(979,530)"><rect x="-19" y="-8.5" width="38" height="17"/><text y="-3"><tspan x="0">response</tspan><tspan x="0" dy="4.3">to oxygen-containing</tspan><tspan x="0" dy="4.3">compound</tspan></text></g>
<g id="b138" class="y" transform="translate(1022,530)"><rect x="-18.5" y="-6.5" width="37" height="13"/><text y="-.8"><tspan x="0">response</tspan><tspan x="0" dy="4.3">to organophosphorus</tspan></text></g>
<g id="b139" class="o" transform="translate(1062,530)"><rect x="-16.5" y="-8.5" width="33" height="17"/><text y="-3"><tspan x="0">response</tspan><tspan x="0" dy="4.3">to organonitrogen</tspan><tspan x="0" dy="4.3">compound</tspan></text></g>
<g id="b140" class="y" transform="translate(1095,530)"><rect x="-10.5" y="-10.5" width="21" height="21"/><text y="-5.1"><tspan x="0">cellular</tspan><tspan x="0" dy="4.3">response</tspan><tspan x="0" dy="4.3">to organic</tspan><tspan x="0" dy="4.3">substance</tspan></text></g>
<g id="b141" class="y" transform="translate(1126,530)"><rect x="-15" y="-8" width="30" height="16"/><text y="-3"><tspan x="0">response</tspan><tspan x="0" dy="4.3">to organic</tspan><tspan x="0" dy="4.3">cyclic compound</tspan></text></g>
<g id="b142" class="y" transform="translate(1159,530)"><rect x="-10.5" y="-10.5" width="21" height="21"/><text y="-5.1"><tspan x="0">cellular</tspan><tspan x="0" dy="4.3">response</tspan><tspan x="0" dy="4.3">to nitrogen</tspan><tspan x="0" dy="4.3">compound</tspan></text></g>
<g id="b143" class="w" transform="translate(1219,530)"><rect x="-17.5" y="-6.5" width="35" height="13"/><text y="-.8"><tspan x="0">protein catabolic</tspan><tspan x="0" dy="4.3">process</tspan></text></g>
<g id="b144" class="w" transform="translate(1259,530)"><rect x="-16.5" y="-8" width="33" height="16"/><text y="-3"><tspan x="0">cellular</tspan><tspan x="0" dy="4.3">protein metabolic</tspan><tspan x="0" dy="4.3">process</tspan></text></g>
<g id="b145" class="w" transform="translate(1300,530)"><rect x="-19" y="-10.5" width="38" height="21"/><text y="-5.1"><tspan x="0">phosphate-containing</tspan><tspan x="0" dy="4.3">compound</tspan><tspan x="0" dy="4.3">metabolic</tspan><tspan x="0" dy="4.3">process</tspan></text></g>
<g id="b146" class="w" transform="translate(1393,530)"><rect x="-15" y="-6.5" width="30" height="13"/><text y="-.8"><tspan x="0">alcohol metabolic</tspan><tspan x="0" dy="4.3">process</tspan></text></g>
<g id="b147" class="y" transform="translate(1440,530)"><rect x="-11.5" y="-8" width="23" height="16"/><text y="-3"><tspan x="0">carbohydrate</tspan><tspan x="0" dy="4.3">biosynthetic</tspan><tspan x="0" dy="4.3">process</tspan></text></g>
<g id="b148" class="y" transform="translate(1474,530)"><rect x="-12" y="-8.5" width="24" height="17"/><text y="-3"><tspan x="0">glycosaminoglycan</tspan><tspan x="0" dy="4.3">metabolic</tspan><tspan x="0" dy="4.3">process</tspan></text></g>
<g id="b149" class="y" transform="translate(785,573)"><rect x="-12" y="-6.5" width="24" height="13"/><text y="-.8"><tspan x="0">response</tspan><tspan x="0" dy="4.3">to bacterium</tspan></text></g>
<g id="b150" class="w" transform="translate(828,573)"><rect x="-12.5" y="-6.5" width="25" height="13"/><text y="1.4">cell migration</text></g>
<g id="b151" class="l" transform="translate(858,573)"><rect x="-11.5" y="-6.5" width="23" height="13"/><text y="1.4">chemotaxis</text></g>
<g id="b152" class="y" transform="translate(890,573)"><rect x="-14" y="-6.5" width="28" height="13"/><text y="-.8"><tspan x="0">response</tspan><tspan x="0" dy="4.3">to growth factor</tspan></text></g>
<g id="b153" class="w" transform="translate(934,573)"><rect x="-12" y="-10.5" width="24" height="21"/><text y="-5.1"><tspan x="0">cellular</tspan><tspan x="0" dy="4.3">response</tspan><tspan x="0" dy="4.3">to hormone</tspan><tspan x="0" dy="4.3">stimulus</tspan></text></g>
<g id="b154" class="y" transform="translate(969,573)"><rect x="-17.5" y="-6.5" width="35" height="13"/><text y="-.8"><tspan x="0">response</tspan><tspan x="0" dy="4.3">to interferon-gamma</tspan></text></g>
<g id="b155" class="y" transform="translate(1015,573)"><rect x="-10" y="-6.5" width="20" height="13"/><text y="-.8"><tspan x="0">response</tspan><tspan x="0" dy="4.3">to peptide</tspan></text></g>
<g id="b156" class="y" transform="translate(1061,573)"><rect x="-17.5" y="-8.5" width="35" height="17"/><text y="-3"><tspan x="0">response</tspan><tspan x="0" dy="4.3">to purine-containing</tspan><tspan x="0" dy="4.3">compound</tspan></text></g>
<g id="b157" class="y" transform="translate(1101.5,573)"><rect x="-16" y="-10.5" width="32" height="21"/><text y="-5.1"><tspan x="0">cellular</tspan><tspan x="0" dy="4.3">response</tspan><tspan x="0" dy="4.3">to organophosphorus</tspan><tspan x="0" dy="4.3">compound</tspan></text></g>
<g id="b158" class="y" transform="translate(1142.5,573)"><rect x="-18.5" y="-10.5" width="37" height="21"/><text y="-5.1"><tspan x="0">cellular</tspan><tspan x="0" dy="4.3">response</tspan><tspan x="0" dy="4.3">to oxygen-containing</tspan><tspan x="0" dy="4.3">compound</tspan></text></g>
<g id="b159" class="y" transform="translate(1183,573)"><rect x="-14.5" y="-10.5" width="29" height="21"/><text y="-5.1"><tspan x="0">cellular</tspan><tspan x="0" dy="4.3">response</tspan><tspan x="0" dy="4.3">to organic</tspan><tspan x="0" dy="4.3">cyclic compound</tspan></text></g>
<g id="b160" class="w" transform="translate(1260,573)"><rect x="-17.5" y="-8" width="35" height="16"/><text y="-3"><tspan x="0">cellular</tspan><tspan x="0" dy="4.3">protein modification</tspan><tspan x="0" dy="4.3">process</tspan></text></g>
<g id="b161" class="w" transform="translate(1299,573)"><rect x="-14" y="-6.5" width="28" height="13"/><text y="1.4">phosphorylation</text></g>
<g id="b162" class="w" transform="translate(1370,573)"><rect x="-14.5" y="-8" width="29" height="16"/><text y="-.8"><tspan x="0">lipid metabolic</tspan><tspan x="0" dy="4.3">process</tspan></text></g>
<g id="b163" class="w" transform="translate(1413,573)"><rect x="-17" y="-6.5" width="34" height="13"/><text y="-.8"><tspan x="0">single-organism lipid</tspan><tspan x="0" dy="4.3">process</tspan></text></g>
<g id="b164" class="w" transform="translate(1449,573)"><rect x="-12.5" y="-10.5" width="25" height="21"/><text y="-3"><tspan x="0">alcohol</tspan><tspan x="0" dy="4.3">biosynthetic</tspan><tspan x="0" dy="4.3">process</tspan></text></g>
<g id="b165" class="w" transform="translate(765,626)"><rect x="-16.5" y="-6.5" width="33" height="13"/><text y="-.8"><tspan x="0">defense response</tspan><tspan x="0" dy="4.3">to bacterium</tspan></text></g>
<g id="b166" class="y" transform="translate(816,626)"><rect x="-10.5" y="-6.5" width="21" height="13"/><text y="-.8"><tspan x="0">leukocyte</tspan><tspan x="0" dy="4.3">migration</tspan></text></g>
<g id="b167" class="y" transform="translate(848,626)"><rect x="-14.5" y="-6.5" width="29" height="13"/><text y="1.4">cell chemotaxis</text></g>
<g id="b168" class="y" transform="translate(913,626)"><rect x="-14" y="-10.5" width="28" height="21"/><text y="-5.1"><tspan x="0">cellular</tspan><tspan x="0" dy="4.3">response</tspan><tspan x="0" dy="4.3">to growth factor</tspan><tspan x="0" dy="4.3">stimulus</tspan></text></g>
<g id="b169" class="y" transform="translate(1006,626)"><rect x="-10.5" y="-8.5" width="21" height="17"/><text y="-3"><tspan x="0">response</tspan><tspan x="0" dy="4.3">to peptide</tspan><tspan x="0" dy="4.3">hormone</tspan></text></g>
<g id="b170" class="y" transform="translate(1043,626)"><rect x="-10" y="-6.5" width="20" height="13"/><text y="-.8"><tspan x="0">response</tspan><tspan x="0" dy="4.3">to cAMP</tspan></text></g>
<g id="b171" class="w" transform="translate(1259,626)"><rect x="-20" y="-6.5" width="40" height="13"/><text y="1.4">protein phosphorylation</text></g>
<g id="b172" class="w" transform="translate(1360,626)"><rect x="-14.5" y="-6.5" width="29" height="13"/><text y="-.8"><tspan x="0">peptidyl-amino acid</tspan><tspan x="0" dy="4.3">modification</tspan></text></g>
<g id="b173" class="w" transform="translate(1392,626)"><rect x="-10.5" y="-8.5" width="21" height="17"/><text y="-3"><tspan x="0">glycerol</tspan><tspan x="0" dy="4.3">metabolic</tspan><tspan x="0" dy="4.3">process</tspan></text></g>
<g id="b174" class="w" transform="translate(1426,626)"><rect x="-17" y="-6.5" width="34" height="13"/><text y="-.8"><tspan x="0">lipid biosynthetic</tspan><tspan x="0" dy="4.3">process</tspan></text></g>
<g id="b175" class="y" transform="translate(765,683)"><rect x="-16.5" y="-8" width="33" height="16"/><text y="-3"><tspan x="0">defense response</tspan><tspan x="0" dy="4.3">to Gram-positive</tspan><tspan x="0" dy="4.3">bacterium</tspan></text></g>
<g id="b176" class="y" transform="translate(815.5,683)"><rect x="-14.5" y="-12.5" width="29" height="25"/><text y="-7.3"><tspan x="0">leukocyte</tspan><tspan x="0" dy="4.3">migration</tspan><tspan x="0" dy="4.3">involved</tspan><tspan x="0" dy="4.3">in inflammatory</tspan><tspan x="0" dy="4.3">response</tspan></text></g>
<g id="b177" class="y" transform="translate(848,683)"><rect x="-11" y="-6.5" width="22" height="13"/><text y="-.8"><tspan x="0">leukocyte</tspan><tspan x="0" dy="4.3">chemotaxis</tspan></text></g>
<g id="b178" class="y" transform="translate(1006,683)"><rect x="-9" y="-6.5" width="18" height="13"/><text y="-.8"><tspan x="0">response</tspan><tspan x="0" dy="4.3">to insulin</tspan></text></g>
<g id="b179" class="y" transform="translate(1121,683)"><rect x="-10" y="-8.5" width="20" height="17"/><text y="-3"><tspan x="0">cellular</tspan><tspan x="0" dy="4.3">response</tspan><tspan x="0" dy="4.3">to cAMP</tspan></text></g>
<g id="b180" class="w" transform="translate(1207,683)"><rect x="-17.5" y="-8" width="35" height="16"/><text y="-3"><tspan x="0">signal transduction</tspan><tspan x="0" dy="4.3">by protein</tspan><tspan x="0" dy="4.3">phosphorylation</tspan></text></g>
<g id="b181" class="y" transform="translate(1336.5,683)"><rect x="-18" y="-6.5" width="36" height="13"/><text y="1.4">peptide cross-linking</text></g>
<g id="b182" class="w" transform="translate(1374,683)"><rect x="-13.5" y="-6.5" width="27" height="13"/><text y="-.8"><tspan x="0">peptidyl-lysine</tspan><tspan x="0" dy="4.3">modification</tspan></text></g>
<g id="b183" class="y" transform="translate(1416,683)"><rect x="-12.5" y="-8.5" width="25" height="17"/><text y="-3"><tspan x="0">glycerol</tspan><tspan x="0" dy="4.3">biosynthetic</tspan><tspan x="0" dy="4.3">process</tspan></text></g>
<g id="b184" class="w" transform="translate(866,730)"><rect x="-14.5" y="-6.5" width="29" height="13"/><text y="1.4">MAPK cascade</text></g>
<g id="b185" class="y" transform="translate(1374,730)"><rect x="-18.5" y="-10.5" width="37" height="21"/><text y="-5.1"><tspan x="0">peptide cross-linking</tspan><tspan x="0" dy="4.3">via chondroitin</tspan><tspan x="0" dy="4.3">4-sulfate</tspan><tspan x="0" dy="4.3">glycosaminoglycan</tspan></text></g>
<g id="b186" class="y" transform="translate(866,772)"><rect x="-15.5" y="-6.5" width="31" height="13"/><text y="-.8"><tspan x="0">ERK1 and ERK2</tspan><tspan x="0" dy="4.3">cascade</tspan></text></g>
<g id="b187" class="w" transform="translate(1506,456)"><rect x="-15" y="-10.5" width="30" height="21"/><text y="-3"><tspan x="0">organic acid</tspan><tspan x="0" dy="4.3">metabolic</tspan><tspan x="0" dy="4.3">process</tspan></text></g>
<g id="b188" class="w" transform="translate(1537,456)"><rect x="-10.5" y="-10.5" width="21" height="21"/><text y="-3"><tspan x="0">cellular</tspan><tspan x="0" dy="4.3">ketone</tspan><tspan x="0" dy="4.3">process</tspan></text></g>
<g id="b189" class="y" transform="translate(1567,456)"><rect x="-12.5" y="-8" width="25" height="16"/><text y="-.8"><tspan x="0">lipid metabolic</tspan><tspan x="0" dy="4.3">process</tspan></text></g>
<g id="b190" class="y" transform="translate(1603,456)"><rect x="-14" y="-10.5" width="28" height="21"/><text y="-3"><tspan x="0">single-organism</tspan><tspan x="0" dy="4.3">catabolic</tspan><tspan x="0" dy="4.3">process</tspan></text></g>
<g id="b191" class="w" transform="translate(1639,456)"><rect x="-13.5" y="-10.5" width="27" height="21"/><text y="-3"><tspan x="0">small molecule</tspan><tspan x="0" dy="4.3">catabolic</tspan><tspan x="0" dy="4.3">process</tspan></text></g>
<g id="b192" class="w" transform="translate(1686,456)"><rect x="-13.5" y="-10.5" width="27" height="21"/><text y="-3"><tspan x="0">single-organism</tspan><tspan x="0" dy="4.3">cellular</tspan><tspan x="0" dy="4.3">process</tspan></text></g>
<g id="b193" class="w" transform="translate(1725,456)"><rect x="-13.5" y="-10.5" width="27" height="21"/><text y="-3"><tspan x="0">organic</tspan><tspan x="0" dy="4.3">substance</tspan><tspan x="0" dy="4.3">catabolic</tspan></text></g>
<g id="b194" class="w" transform="translate(1790.5,456)"><rect x="-11" y="-10.5" width="22" height="21"/><text y="-3"><tspan x="0">cellular</tspan><tspan x="0" dy="4.3">component</tspan><tspan x="0" dy="4.3">organization</tspan></text></g>
<g id="b195" class="w" transform="translate(1824,456)"><rect x="-9.5" y="-6.5" width="19" height="13"/><text y="1.4">transport</text></g>
<g id="b196" class="y" transform="translate(1915,456)"><rect x="-9" y="-6.5" width="18" height="13"/><text y="1.4">secretion</text></g>
<g id="b197" class="y" transform="translate(1972,456)"><rect x="-15" y="-6.5" width="30" height="13"/><text y="1.4">tissue remodeling</text></g>
<g id="b198" class="w" transform="translate(2021,456)"><rect x="-14" y="-6.5" width="28" height="13"/><text y="1.4">system process</text></g>
<g id="b199" class="w" transform="translate(2055,456)"><rect x="-12" y="-8" width="24" height="16"/><text y="-.8"><tspan x="0">developmental</tspan><tspan x="0" dy="4.3">growth</tspan></text></g>
<g id="b200" class="w" transform="translate(2141,456)"><rect x="-14" y="-10.5" width="28" height="21"/><text y="-3"><tspan x="0">morphogenesis</tspan><tspan x="0" dy="4.3">of a branching</tspan><tspan x="0" dy="4.3">structure</tspan></text></g>
<g id="b201" class="w" transform="translate(2179,456)"><rect x="-15" y="-6.5" width="30" height="13"/><text y="1.4">tissue morphogenesis</text></g>
<g id="b202" class="w" transform="translate(1505,490)"><rect x="-16" y="-8" width="32" height="16"/><text y="-3"><tspan x="0">amino acid</tspan><tspan x="0" dy="4.3">metabolic</tspan><tspan x="0" dy="4.3">process</tspan></text></g>
<g id="b203" class="w" transform="translate(1539,490)"><rect x="-12" y="-8" width="24" height="16"/><text y="-3"><tspan x="0">cellular</tspan><tspan x="0" dy="4.3">biosynthetic</tspan><tspan x="0" dy="4.3">process</tspan></text></g>
<g id="b204" class="w" transform="translate(1586,490)"><rect x="-15.5" y="-8" width="31" height="16"/><text y="-3"><tspan x="0">sulfur compound</tspan><tspan x="0" dy="4.3">metabolic</tspan><tspan x="0" dy="4.3">process</tspan></text></g>
<g id="b205" class="y" transform="translate(1621,490)"><rect x="-14" y="-8" width="28" height="16"/><text y="-3"><tspan x="0">cellular</tspan><tspan x="0" dy="4.3">lipid metabolic</tspan><tspan x="0" dy="4.3">process</tspan></text></g>
<g id="b206" class="w" transform="translate(1653,490)"><rect x="-12" y="-8" width="24" height="16"/><text y="-3"><tspan x="0">organic acid</tspan><tspan x="0" dy="4.3">metabolic</tspan><tspan x="0" dy="4.3">process</tspan></text></g>
<g id="b207" class="w" transform="translate(1685,490)"><rect x="-12.5" y="-8" width="25" height="16"/><text y="-.8"><tspan x="0">lipid catabolic</tspan><tspan x="0" dy="4.3">process</tspan></text></g>
<g id="b208" class="w" transform="translate(1715,490)"><rect x="-9.5" y="-8" width="19" height="16"/><text y="-3"><tspan x="0">cellular</tspan><tspan x="0" dy="4.3">catabolic</tspan><tspan x="0" dy="4.3">process</tspan></text></g>
<g id="b209" class="w" transform="translate(1744,490)"><rect x="-15" y="-8" width="30" height="16"/><text y="-3"><tspan x="0">small molecule</tspan><tspan x="0" dy="4.3">metabolic</tspan><tspan x="0" dy="4.3">process</tspan></text></g>
<g id="b210" class="l" transform="translate(1790.5,490)"><rect x="-11.5" y="-8" width="23" height="16"/><text y="-3"><tspan x="0">extracellular</tspan><tspan x="0" dy="4.3">structure</tspan><tspan x="0" dy="4.3">organization</tspan></text></g>
<g id="b211" class="w" transform="translate(1821,490)"><rect x="-11" y="-8" width="22" height="16"/><text y="-3"><tspan x="0">cellular</tspan><tspan x="0" dy="4.3">component</tspan><tspan x="0" dy="4.3">assembly</tspan></text></g>
<g id="b212" class="w" transform="translate(1854,490)"><rect x="-15" y="-8" width="30" height="16"/><text y="-3"><tspan x="0">macromolecular</tspan><tspan x="0" dy="4.3">complex</tspan><tspan x="0" dy="4.3">organization</tspan></text></g>
<g id="b213" class="w" transform="translate(1903,490)"><rect x="-14.5" y="-6.5" width="29" height="13"/><text y="-.8"><tspan x="0">single-organism</tspan><tspan x="0" dy="4.3">transport</tspan></text></g>
<g id="b214" class="w" transform="translate(1938,490)"><rect x="-13.5" y="-8" width="27" height="16"/><text y="-3"><tspan x="0">cellular</tspan><tspan x="0" dy="4.3">developmental</tspan><tspan x="0" dy="4.3">process</tspan></text></g>
<g id="b215" class="l" transform="translate(1970,490)"><rect x="-12" y="-8" width="24" height="16"/><text y="-3"><tspan x="0">striated</tspan><tspan x="0" dy="4.3">muscle cell</tspan><tspan x="0" dy="4.3">fate</tspan></text></g>
<g id="b216" class="w" transform="translate(2026,490)"><rect x="-12.5" y="-6.5" width="25" height="13"/><text y="1.4">organ growth</text></g>
<g id="b217" class="o" transform="translate(2080,490)"><rect x="-14.5" y="-6.5" width="29" height="13"/><text y="-.8"><tspan x="0">muscle system</tspan><tspan x="0" dy="4.3">process</tspan></text></g>
<g id="b218" class="w" transform="translate(2131,490)"><rect x="-15" y="-6.5" width="30" height="13"/><text y="1.4">gland development</text></g>
<g id="b219" class="w" transform="translate(2180,490)"><rect x="-13.5" y="-6.5" width="27" height="13"/><text y="-.8"><tspan x="0">morphogenesis</tspan><tspan x="0" dy="4.3">of an epithelium</tspan></text></g>
<g id="b220" class="w" transform="translate(1518,530)"><rect x="-17.5" y="-6.5" width="35" height="13"/><text y="-.8"><tspan x="0">sterol biosynthetic</tspan><tspan x="0" dy="4.3">process</tspan></text></g>
<g id="b221" class="l" transform="translate(1592,530)"><rect x="-11.5" y="-8.5" width="23" height="17"/><text y="-3"><tspan x="0">neutral lipid</tspan><tspan x="0" dy="4.3">metabolic</tspan><tspan x="0" dy="4.3">process</tspan></text></g>
<g id="b222" class="y" transform="translate(1621,530)"><rect x="-11" y="-8.5" width="22" height="17"/><text y="-3"><tspan x="0">glycerolipid</tspan><tspan x="0" dy="4.3">metabolic</tspan><tspan x="0" dy="4.3">process</tspan></text></g>
<g id="b223" class="y" transform="translate(1653,530)"><rect x="-13" y="-8.5" width="26" height="17"/><text y="-3"><tspan x="0">cellular</tspan><tspan x="0" dy="4.3">lipid catabolic</tspan><tspan x="0" dy="4.3">process</tspan></text></g>
<g id="b224" class="y" transform="translate(1702,530)"><rect x="-16" y="-6.5" width="32" height="13"/><text y="-.8"><tspan x="0">organic acid metabolic</tspan><tspan x="0" dy="4.3">process</tspan></text></g>
<g id="b225" class="w" transform="translate(1737,530)"><rect x="-12" y="-8" width="24" height="16"/><text y="-3"><tspan x="0">organic acid</tspan><tspan x="0" dy="4.3">catabolic</tspan><tspan x="0" dy="4.3">process</tspan></text></g>
<g id="b226" class="l" transform="translate(1772,530)"><rect x="-16.5" y="-6.5" width="33" height="13"/><text y="-.8"><tspan x="0">extracellular matrix</tspan><tspan x="0" dy="4.3">organization</tspan></text></g>
<g id="b227" class="w" transform="translate(1824,530)"><rect x="-16.5" y="-6.5" width="33" height="13"/><text y="-.8"><tspan x="0">macromolecular</tspan><tspan x="0" dy="4.3">complex assembly</tspan></text></g>
<g id="b228" class="w" transform="translate(1864,530)"><rect x="-16.5" y="-6.5" width="33" height="13"/><text y="-.8"><tspan x="0">protein complex</tspan><tspan x="0" dy="4.3">subunit organization</tspan></text></g>
<g id="b229" class="w" transform="translate(1903,530)"><rect x="-15" y="-6.5" width="30" height="13"/><text y="-.8"><tspan x="0">transmembrane</tspan><tspan x="0" dy="4.3">transport</tspan></text></g>
<g id="b230" class="w" transform="translate(1936,530)"><rect x="-12" y="-6.5" width="24" height="13"/><text y="1.4">ion transport</text></g>
<g id="b231" class="w" transform="translate(1969,530)"><rect x="-16" y="-6.5" width="32" height="13"/><text y="1.4">cell differentiation</text></g>
<g id="b232" class="y" transform="translate(2016,530)"><rect x="-12" y="-8" width="24" height="16"/><text y="-3"><tspan x="0">positive</tspan><tspan x="0" dy="4.3">regulation</tspan><tspan x="0" dy="4.3">of gland growth</tspan></text></g>
<g id="b233" class="y" transform="translate(2051,530)"><rect x="-16.5" y="-6.5" width="33" height="13"/><text y="1.4">muscle contraction</text></g>
<g id="b234" class="w" transform="translate(2084,530)"><rect x="-11" y="-6.5" width="22" height="13"/><text y="-.8"><tspan x="0">relaxation</tspan><tspan x="0" dy="4.3">of muscle</tspan></text></g>
<g id="b235" class="y" transform="translate(2130,530)"><rect x="-13" y="-6.5" width="26" height="13"/><text y="-.8"><tspan x="0">exocrine gland</tspan><tspan x="0" dy="4.3">development</tspan></text></g>
<g id="b236" class="w" transform="translate(2172,530)"><rect x="-15" y="-8.5" width="30" height="17"/><text y="-3"><tspan x="0">morphogenesis</tspan><tspan x="0" dy="4.3">of a branching</tspan><tspan x="0" dy="4.3">epithelium</tspan></text></g>
<g id="b237" class="y" transform="translate(1500,573)"><rect x="-18.5" y="-8.5" width="37" height="17"/><text y="-3"><tspan x="0">mucopolysaccharide</tspan><tspan x="0" dy="4.3">metabolic</tspan><tspan x="0" dy="4.3">process</tspan></text></g>
<g id="b238" class="l" transform="translate(1570,573)"><rect x="-12" y="-8.5" width="24" height="17"/><text y="-3"><tspan x="0">acylglycerol</tspan><tspan x="0" dy="4.3">metabolic</tspan><tspan x="0" dy="4.3">process</tspan></text></g>
<g id="b239" class="l" transform="translate(1599,573)"><rect x="-11.5" y="-8.5" width="23" height="17"/><text y="-3"><tspan x="0">neutral lipid</tspan><tspan x="0" dy="4.3">catabolic</tspan><tspan x="0" dy="4.3">process</tspan></text></g>
<g id="b240" class="y" transform="translate(1628,573)"><rect x="-11.5" y="-8.5" width="23" height="17"/><text y="-3"><tspan x="0">glycerolipid</tspan><tspan x="0" dy="4.3">catabolic</tspan><tspan x="0" dy="4.3">process</tspan></text></g>
<g id="b241" class="w" transform="translate(1702,573)"><rect x="-14" y="-8" width="28" height="16"/><text y="-3"><tspan x="0">carboxylic acid</tspan><tspan x="0" dy="4.3">metabolic</tspan><tspan x="0" dy="4.3">process</tspan></text></g>
<g id="b242" class="w" transform="translate(1767,573)"><rect x="-15" y="-6.5" width="30" height="13"/><text y="1.4">fiber organization</text></g>
<g id="b243" class="y" transform="translate(1802,573)"><rect x="-15" y="-6.5" width="30" height="13"/><text y="-.8"><tspan x="0">extracellular</tspan><tspan x="0" dy="4.3">matrix assembly</tspan></text></g>
<g id="b244" class="w" transform="translate(1839,573)"><rect x="-15" y="-6.5" width="30" height="13"/><text y="-.8"><tspan x="0">protein complex</tspan><tspan x="0" dy="4.3">disassembly</tspan></text></g>
<g id="b245" class="w" transform="translate(1908,573)"><rect x="-18" y="-6.5" width="36" height="13"/><text y="-.8"><tspan x="0">ion transmembrane</tspan><tspan x="0" dy="4.3">transport</tspan></text></g>
<g id="b246" class="w" transform="translate(1951,573)"><rect x="-14.5" y="-6.5" width="29" height="13"/><text y="1.4">cation transport</text></g>
<g id="b247" class="l" transform="translate(1992,573)"><rect x="-18" y="-6.5" width="36" height="13"/><text y="1.4">fat cell differentiation</text></g>
<g id="b248" class="y" transform="translate(2051,573)"><rect x="-15" y="-6.5" width="30" height="13"/><text y="-.8"><tspan x="0">smooth muscle</tspan><tspan x="0" dy="4.3">contraction</tspan></text></g>
<g id="b249" class="y" transform="translate(2084,573)"><rect x="-10.5" y="-8" width="21" height="16"/><text y="-3"><tspan x="0">relaxation</tspan><tspan x="0" dy="4.3">of smooth</tspan><tspan x="0" dy="4.3">muscle</tspan></text></g>
<g id="b250" class="w" transform="translate(2172,573)"><rect x="-15" y="-10.5" width="30" height="21"/><text y="-5.1"><tspan x="0">branching</tspan><tspan x="0" dy="4.3">morphogenesis</tspan><tspan x="0" dy="4.3">of an epithelial</tspan><tspan x="0" dy="4.3">tube</tspan></text></g>
<g id="b251" class="w" transform="translate(1518,626)"><rect x="-16" y="-8.5" width="32" height="17"/><text y="-3"><tspan x="0">cholesterol</tspan><tspan x="0" dy="4.3">metabolic</tspan><tspan x="0" dy="4.3">process</tspan></text></g>
<g id="b252" class="l" transform="translate(1570,626)"><rect x="-12" y="-8.5" width="24" height="17"/><text y="-3"><tspan x="0">triglyceride</tspan><tspan x="0" dy="4.3">metabolic</tspan><tspan x="0" dy="4.3">process</tspan></text></g>
<g id="b253" class="l" transform="translate(1599,626)"><rect x="-12" y="-8.5" width="24" height="17"/><text y="-3"><tspan x="0">acylglycerol</tspan><tspan x="0" dy="4.3">catabolic</tspan><tspan x="0" dy="4.3">process</tspan></text></g>
<g id="b254" class="y" transform="translate(1700,626)"><rect x="-15" y="-8.5" width="30" height="17"/><text y="-3"><tspan x="0">monocarboxylic</tspan><tspan x="0" dy="4.3">acid metabolic</tspan><tspan x="0" dy="4.3">process</tspan></text></g>
<g id="b255" class="w" transform="translate(1735,626)"><rect x="-13.5" y="-8.5" width="27" height="17"/><text y="-3"><tspan x="0">carboxylic acid</tspan><tspan x="0" dy="4.3">catabolic</tspan><tspan x="0" dy="4.3">process</tspan></text></g>
<g id="b256" class="y" transform="translate(1770,626)"><rect x="-15" y="-6.5" width="30" height="13"/><text y="-.8"><tspan x="0">extracellular</tspan><tspan x="0" dy="4.3">fibril organization</tspan></text></g>
<g id="b257" class="y" transform="translate(1802,626)"><rect x="-12" y="-6.5" width="24" height="13"/><text y="-.8"><tspan x="0">elastic fiber</tspan><tspan x="0" dy="4.3">assembly</tspan></text></g>
<g id="b258" class="w" transform="translate(1839,626)"><rect x="-19" y="-6.5" width="38" height="13"/><text y="1.4">protein degradation</text></g>
<g id="b259" class="w" transform="translate(1882,626)"><rect x="-17" y="-8.5" width="34" height="17"/><text y="-3"><tspan x="0">inorganic</tspan><tspan x="0" dy="4.3">ion transmembrane</tspan><tspan x="0" dy="4.3">transport</tspan></text></g>
<g id="b260" class="w" transform="translate(1925,626)"><rect x="-19.5" y="-6.5" width="39" height="13"/><text y="-.8"><tspan x="0">cation transmembrane</tspan><tspan x="0" dy="4.3">transport</tspan></text></g>
<g id="b261" class="w" transform="translate(1961,626)"><rect x="-10.5" y="-6.5" width="21" height="13"/><text y="-.8"><tspan x="0">metal ion</tspan><tspan x="0" dy="4.3">transport</tspan></text></g>
<g id="b262" class="w" transform="translate(1991,626)"><rect x="-14.5" y="-8.5" width="29" height="17"/><text y="-3"><tspan x="0">divalent</tspan><tspan x="0" dy="4.3">inorganic</tspan><tspan x="0" dy="4.3">cation transport</tspan></text></g>
<g id="b263" class="l" transform="translate(2027.5,626)"><rect x="-16" y="-6.5" width="32" height="13"/><text y="-.8"><tspan x="0">brown fat</tspan><tspan x="0" dy="4.3">cell differentiation</tspan></text></g>
<g id="b264" class="y" transform="translate(2146,626)"><rect x="-14" y="-12.5" width="28" height="25"/><text y="-7.3"><tspan x="0">branching</tspan><tspan x="0" dy="4.3">involved</tspan><tspan x="0" dy="4.3">in mammary</tspan><tspan x="0" dy="4.3">gland duct</tspan><tspan x="0" dy="4.3">morphogenesis</tspan></text></g>
<g id="b265" class="y" transform="translate(1585,683)"><rect x="-11" y="-8.5" width="22" height="17"/><text y="-3"><tspan x="0">triglyceride</tspan><tspan x="0" dy="4.3">catabolic</tspan><tspan x="0" dy="4.3">process</tspan></text></g>
<g id="b266" class="y" transform="translate(1683,683)"><rect x="-10.5" y="-8.5" width="21" height="17"/><text y="-3"><tspan x="0">fatty acid</tspan><tspan x="0" dy="4.3">metabolic</tspan><tspan x="0" dy="4.3">process</tspan></text></g>
<g id="b267" class="y" transform="translate(1714,683)"><rect x="-15" y="-8.5" width="30" height="17"/><text y="-3"><tspan x="0">monocarboxylic</tspan><tspan x="0" dy="4.3">acid catabolic</tspan><tspan x="0" dy="4.3">process</tspan></text></g>
<g id="b268" class="w" transform="translate(1813,683)"><rect x="-24" y="-6.5" width="48" height="13"/><text y="1.4">protein depolymerization</text></g>
<g id="b269" class="w" transform="translate(1860,683)"><rect x="-17" y="-6.5" width="34" height="13"/><text y="1.4">protein disassembly</text></g>
<g id="b270" class="w" transform="translate(1925,683)"><rect x="-19" y="-8.5" width="38" height="17"/><text y="-3"><tspan x="0">inorganic</tspan><tspan x="0" dy="4.3">cation transmembrane</tspan><tspan x="0" dy="4.3">transport</tspan></text></g>
<g id="b271" class="w" transform="translate(1961,683)"><rect x="-10.5" y="-8.5" width="21" height="17"/><text y="-3"><tspan x="0">divalent</tspan><tspan x="0" dy="4.3">metal ion</tspan><tspan x="0" dy="4.3">transport</tspan></text></g>
<g id="b272" class="y" transform="translate(2104,683)"><rect x="-14" y="-15" width="28" height="30"/><text y="-11.6"><tspan x="0">lobar</tspan><tspan x="0" dy="4.3">branching</tspan><tspan x="0" dy="4.3">involved</tspan><tspan x="0" dy="4.3">in mammary</tspan><tspan x="0" dy="4.3">gland duct</tspan><tspan x="0" dy="4.3">morphogenesis</tspan></text></g>
<g id="b273" class="y" transform="translate(1683,730)"><rect x="-10" y="-8.5" width="20" height="17"/><text y="-3"><tspan x="0">fatty acid</tspan><tspan x="0" dy="4.3">catabolic</tspan><tspan x="0" dy="4.3">process</tspan></text></g>
<g id="b274" class="y" transform="translate(1837,730)"><rect x="-22" y="-6.5" width="44" height="13"/><text y="1.4">protein homomerization</text></g>
<g id="b275" class="y" transform="translate(1957,730)"><rect x="-11.5" y="-6.5" width="23" height="13"/><text y="-.8"><tspan x="0">calcium ion</tspan><tspan x="0" dy="4.3">transport</tspan></text></g>
<g id="b276" class="y" transform="translate(1942.5,772)"><rect x="-15" y="-8.5" width="30" height="17"/><text y="-3"><tspan x="0">calcium ion</tspan><tspan x="0" dy="4.3">transmembrane</tspan><tspan x="0" dy="4.3">transport</tspan></text></g>
</g>
</svg>
